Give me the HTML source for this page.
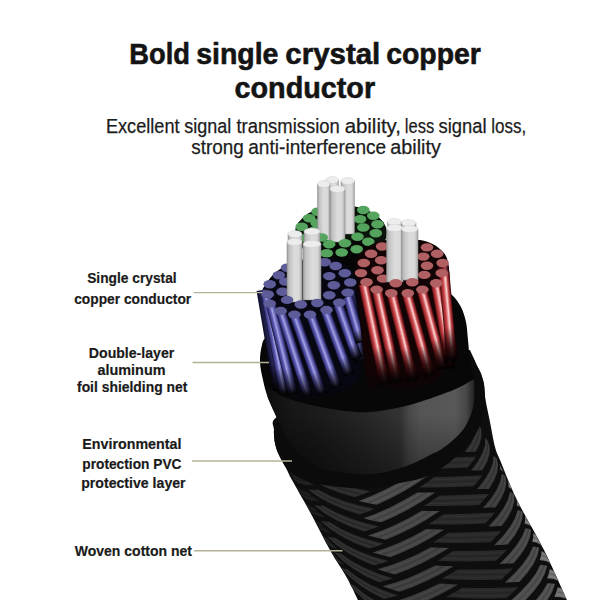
<!DOCTYPE html>
<html><head><meta charset="utf-8"><style>
html,body{margin:0;padding:0;background:#fff;overflow:hidden;}
svg{display:block;}
</style></head><body>
<svg width="600" height="600" viewBox="0 0 600 600">
<defs><clipPath id="braidclip"><path d="M300.0,380.0 C296.2,386.2 281.3,408.7 277.0,417.0 C272.7,425.3 274.3,425.7 274.0,430.0 C273.7,434.3 274.2,438.8 275.0,443.0 C275.8,447.2 277.2,450.8 279.0,455.0 C280.8,459.2 283.8,463.8 286.0,468.0 C288.2,472.2 288.0,472.7 292.0,480.0 C296.0,487.3 303.7,500.3 310.0,512.0 C316.3,523.7 324.0,539.3 330.0,550.0 C336.0,560.7 341.3,567.7 346.0,576.0 C350.7,584.3 356.0,596.0 358.0,600.0 L567,600 567.0,600.0 C563.2,591.7 552.3,566.7 544.0,550.0 C535.7,533.3 524.3,515.0 517.0,500.0 C509.7,485.0 503.7,468.8 500.0,460.0 C496.3,451.2 496.7,453.3 495.0,447.0 C493.3,440.7 491.7,430.3 490.0,422.0 C488.3,413.7 486.2,404.0 485.0,397.0 C483.8,390.0 485.5,387.8 483.0,380.0 C480.5,372.2 472.2,355.0 470.0,350.0 Z"/></clipPath>
<linearGradient id="wcore" x1="0" y1="0" x2="1" y2="0">
<stop offset="0" stop-color="#9c9c9c"/><stop offset="0.15" stop-color="#c2c2c2"/><stop offset="0.5" stop-color="#dcdcdc"/><stop offset="0.8" stop-color="#d8d8d8"/><stop offset="1" stop-color="#a8a8a8"/></linearGradient>
<linearGradient id="rodB" x1="0" y1="0" x2="1" y2="0">
<stop offset="0" stop-color="#0c0c24"/><stop offset="0.12" stop-color="#38367e"/><stop offset="0.32" stop-color="#605eb6"/><stop offset="0.48" stop-color="#a4a3e2"/><stop offset="0.58" stop-color="#8482d0"/><stop offset="0.8" stop-color="#44428e"/><stop offset="1" stop-color="#0c0c24"/></linearGradient>
<linearGradient id="rodBd" x1="0" y1="0" x2="1" y2="0">
<stop offset="0" stop-color="#0a0a20"/><stop offset="0.5" stop-color="#34326e"/><stop offset="0.65" stop-color="#5a58a0"/><stop offset="1" stop-color="#0a0a20"/></linearGradient>
<linearGradient id="rodRd" x1="0" y1="0" x2="1" y2="0">
<stop offset="0" stop-color="#200406"/><stop offset="0.5" stop-color="#7a1e28"/><stop offset="0.65" stop-color="#b0505a"/><stop offset="1" stop-color="#200406"/></linearGradient>
<linearGradient id="rodR" x1="0" y1="0" x2="1" y2="0">
<stop offset="0" stop-color="#300808"/><stop offset="0.14" stop-color="#9a2428"/><stop offset="0.34" stop-color="#cc4c52"/><stop offset="0.48" stop-color="#eca0a0"/><stop offset="0.58" stop-color="#f8d4d0"/><stop offset="0.72" stop-color="#d0585c"/><stop offset="0.88" stop-color="#801c22"/><stop offset="1" stop-color="#300808"/></linearGradient>
<linearGradient id="alongFade" x1="0" y1="0" x2="0" y2="1">
<stop offset="0" stop-color="#000" stop-opacity="0"/><stop offset="0.72" stop-color="#000" stop-opacity="0"/><stop offset="0.93" stop-color="#000" stop-opacity="0.7"/><stop offset="1" stop-color="#000" stop-opacity="1"/></linearGradient>
<linearGradient id="alongFadeR" x1="0" y1="0" x2="0" y2="1">
<stop offset="0" stop-color="#000" stop-opacity="0"/><stop offset="0.62" stop-color="#000" stop-opacity="0"/><stop offset="0.86" stop-color="#1a0204" stop-opacity="0.85"/><stop offset="1" stop-color="#000" stop-opacity="1"/></linearGradient>
<linearGradient id="fadeM" x1="0" y1="0" x2="0" y2="1" gradientUnits="objectBoundingBox">
<stop offset="0" stop-color="#fff"/><stop offset="0.5" stop-color="#fff"/><stop offset="0.85" stop-color="#000"/></linearGradient>
<linearGradient id="fadeB" x1="0" y1="390" x2="0" y2="406" gradientUnits="userSpaceOnUse"><stop offset="0" stop-color="#fff"/><stop offset="1" stop-color="#000"/></linearGradient><mask id="bmask" maskUnits="userSpaceOnUse" x="0" y="0" width="600" height="600"><rect x="250" y="250" width="120" height="160" fill="url(#fadeB)"/></mask><linearGradient id="fadeR" x1="0" y1="370" x2="0" y2="400" gradientUnits="userSpaceOnUse"><stop offset="0" stop-color="#fff"/><stop offset="1" stop-color="#000"/></linearGradient><mask id="rmask" maskUnits="userSpaceOnUse" x="0" y="0" width="600" height="600"><rect x="350" y="240" width="110" height="150" fill="url(#fadeR)"/></mask><linearGradient id="faceg" x1="264" y1="0" x2="476" y2="0" gradientUnits="userSpaceOnUse"><stop offset="0.000" stop-color="rgb(12,12,12)"/><stop offset="0.123" stop-color="rgb(27,27,27)"/><stop offset="0.311" stop-color="rgb(36,36,36)"/><stop offset="0.500" stop-color="rgb(44,44,44)"/><stop offset="0.642" stop-color="rgb(50,50,50)"/><stop offset="0.684" stop-color="rgb(72,72,72)"/><stop offset="0.736" stop-color="rgb(84,84,84)"/><stop offset="0.901" stop-color="rgb(88,88,88)"/><stop offset="0.953" stop-color="rgb(72,72,72)"/><stop offset="1.000" stop-color="rgb(26,26,26)"/></linearGradient>
<radialGradient id="faceshade" cx="300" cy="470" r="110" gradientUnits="userSpaceOnUse">
<stop offset="0" stop-color="#000" stop-opacity="0.4"/><stop offset="1" stop-color="#000" stop-opacity="0"/></radialGradient>
<linearGradient id="facevert" x1="0" y1="415" x2="0" y2="476" gradientUnits="userSpaceOnUse">
<stop offset="0" stop-color="#000" stop-opacity="0"/><stop offset="1" stop-color="#000" stop-opacity="0.4"/></linearGradient>
<linearGradient id="facetop" x1="0" y1="380" x2="0" y2="440" gradientUnits="userSpaceOnUse">
<stop offset="0" stop-color="#000" stop-opacity="0.9"/><stop offset="0.45" stop-color="#000" stop-opacity="0.35"/><stop offset="0.7" stop-color="#000" stop-opacity="0"/></linearGradient></defs>
<rect width="600" height="600" fill="#fff"/>
<text x="129.3" y="64" font-size="29" font-weight="bold" fill="#141414" stroke="#141414" stroke-width="0.6" textLength="60.69" lengthAdjust="spacingAndGlyphs" font-family="Liberation Sans, sans-serif">Bold</text>
<text x="196.16" y="64" font-size="29" font-weight="bold" fill="#141414" stroke="#141414" stroke-width="0.6" textLength="82.3" lengthAdjust="spacingAndGlyphs" font-family="Liberation Sans, sans-serif">single</text>
<text x="285.39" y="64" font-size="29" font-weight="bold" fill="#141414" stroke="#141414" stroke-width="0.6" textLength="94.9" lengthAdjust="spacingAndGlyphs" font-family="Liberation Sans, sans-serif">crystal</text>
<text x="386.13" y="64" font-size="29" font-weight="bold" fill="#141414" stroke="#141414" stroke-width="0.6" textLength="94.81" lengthAdjust="spacingAndGlyphs" font-family="Liberation Sans, sans-serif">copper</text>
<text x="234.57" y="98.3" font-size="29" font-weight="bold" fill="#141414" stroke="#141414" stroke-width="0.6" textLength="140.51" lengthAdjust="spacingAndGlyphs" font-family="Liberation Sans, sans-serif">conductor</text>
<text x="105.93" y="132.7" font-size="19.3" font-weight="normal" fill="#1c1c1c" stroke="#1c1c1c" stroke-width="0.25" textLength="73.62" lengthAdjust="spacingAndGlyphs" font-family="Liberation Sans, sans-serif">Excellent</text>
<text x="184.32" y="132.7" font-size="19.3" font-weight="normal" fill="#1c1c1c" stroke="#1c1c1c" stroke-width="0.25" textLength="47.01" lengthAdjust="spacingAndGlyphs" font-family="Liberation Sans, sans-serif">signal</text>
<text x="236.38" y="132.7" font-size="19.3" font-weight="normal" fill="#1c1c1c" stroke="#1c1c1c" stroke-width="0.25" textLength="103.42" lengthAdjust="spacingAndGlyphs" font-family="Liberation Sans, sans-serif">transmission</text>
<text x="344.65" y="132.7" font-size="19.3" font-weight="normal" fill="#1c1c1c" stroke="#1c1c1c" stroke-width="0.25" textLength="56.32" lengthAdjust="spacingAndGlyphs" font-family="Liberation Sans, sans-serif">ability,</text>
<text x="404.77" y="132.7" font-size="19.3" font-weight="normal" fill="#1c1c1c" stroke="#1c1c1c" stroke-width="0.25" textLength="29.41" lengthAdjust="spacingAndGlyphs" font-family="Liberation Sans, sans-serif">less</text>
<text x="438.52" y="132.7" font-size="19.3" font-weight="normal" fill="#1c1c1c" stroke="#1c1c1c" stroke-width="0.25" textLength="48.01" lengthAdjust="spacingAndGlyphs" font-family="Liberation Sans, sans-serif">signal</text>
<text x="491.27" y="132.7" font-size="19.3" font-weight="normal" fill="#1c1c1c" stroke="#1c1c1c" stroke-width="0.25" textLength="34.98" lengthAdjust="spacingAndGlyphs" font-family="Liberation Sans, sans-serif">loss,</text>
<text x="191.29" y="154.4" font-size="19.3" font-weight="normal" fill="#1c1c1c" stroke="#1c1c1c" stroke-width="0.25" textLength="52.58" lengthAdjust="spacingAndGlyphs" font-family="Liberation Sans, sans-serif">strong</text>
<text x="248.25" y="154.4" font-size="19.3" font-weight="normal" fill="#1c1c1c" stroke="#1c1c1c" stroke-width="0.25" textLength="137.95" lengthAdjust="spacingAndGlyphs" font-family="Liberation Sans, sans-serif">anti-interference</text>
<text x="390.3" y="154.4" font-size="19.3" font-weight="normal" fill="#1c1c1c" stroke="#1c1c1c" stroke-width="0.25" textLength="50.59" lengthAdjust="spacingAndGlyphs" font-family="Liberation Sans, sans-serif">ability</text>
<text x="87.14" y="282.7" font-size="15.5" font-weight="bold" fill="#1a1a1a" stroke="#1a1a1a" stroke-width="0.2" textLength="89.51" lengthAdjust="spacingAndGlyphs" font-family="Liberation Sans, sans-serif">Single crystal</text>
<text x="74.16" y="303.8" font-size="15.5" font-weight="bold" fill="#1a1a1a" stroke="#1a1a1a" stroke-width="0.2" textLength="117.06" lengthAdjust="spacingAndGlyphs" font-family="Liberation Sans, sans-serif">copper conductor</text>
<text x="88.84" y="357.5" font-size="15.5" font-weight="bold" fill="#1a1a1a" stroke="#1a1a1a" stroke-width="0.2" textLength="85.42" lengthAdjust="spacingAndGlyphs" font-family="Liberation Sans, sans-serif">Double-layer</text>
<text x="97.48" y="374.5" font-size="15.5" font-weight="bold" fill="#1a1a1a" stroke="#1a1a1a" stroke-width="0.2" textLength="68.08" lengthAdjust="spacingAndGlyphs" font-family="Liberation Sans, sans-serif">aluminum</text>
<text x="77.0" y="391.5" font-size="15.5" font-weight="bold" fill="#1a1a1a" stroke="#1a1a1a" stroke-width="0.2" textLength="110.34" lengthAdjust="spacingAndGlyphs" font-family="Liberation Sans, sans-serif">foil shielding net</text>
<text x="82.26" y="448.8" font-size="15.5" font-weight="bold" fill="#1a1a1a" stroke="#1a1a1a" stroke-width="0.2" textLength="99.17" lengthAdjust="spacingAndGlyphs" font-family="Liberation Sans, sans-serif">Environmental</text>
<text x="82.29" y="468.5" font-size="15.5" font-weight="bold" fill="#1a1a1a" stroke="#1a1a1a" stroke-width="0.2" textLength="99.2" lengthAdjust="spacingAndGlyphs" font-family="Liberation Sans, sans-serif">protection PVC</text>
<text x="81.24" y="487.5" font-size="15.5" font-weight="bold" fill="#1a1a1a" stroke="#1a1a1a" stroke-width="0.2" textLength="104.34" lengthAdjust="spacingAndGlyphs" font-family="Liberation Sans, sans-serif">protective layer</text>
<text x="74.72" y="555.7" font-size="15.5" font-weight="bold" fill="#1a1a1a" stroke="#1a1a1a" stroke-width="0.2" textLength="117.31" lengthAdjust="spacingAndGlyphs" font-family="Liberation Sans, sans-serif">Woven cotton net</text>
<path d="M300.0,380.0 C296.2,386.2 281.3,408.7 277.0,417.0 C272.7,425.3 274.3,425.7 274.0,430.0 C273.7,434.3 274.2,438.8 275.0,443.0 C275.8,447.2 277.2,450.8 279.0,455.0 C280.8,459.2 283.8,463.8 286.0,468.0 C288.2,472.2 288.0,472.7 292.0,480.0 C296.0,487.3 303.7,500.3 310.0,512.0 C316.3,523.7 324.0,539.3 330.0,550.0 C336.0,560.7 341.3,567.7 346.0,576.0 C350.7,584.3 356.0,596.0 358.0,600.0 L567,600 567.0,600.0 C563.2,591.7 552.3,566.7 544.0,550.0 C535.7,533.3 524.3,515.0 517.0,500.0 C509.7,485.0 503.7,468.8 500.0,460.0 C496.3,451.2 496.7,453.3 495.0,447.0 C493.3,440.7 491.7,430.3 490.0,422.0 C488.3,413.7 486.2,404.0 485.0,397.0 C483.8,390.0 485.5,387.8 483.0,380.0 C480.5,372.2 472.2,355.0 470.0,350.0 Z" fill="#0e0e0e"/>
<g clip-path="url(#braidclip)">
<path d="M213.9,324.2 L217.5,331.2 L221.1,338.2 L226.8,348.0 L234.6,358.1 L234.6,358.1 L233.1,357.4 L231.8,356.5 L230.6,355.6 L229.7,354.6 L229.7,354.6 L225.1,346.0 L221.5,339.0 L217.9,332.0 L214.4,325.1 L214.4,325.1 L214.3,324.8 L214.1,324.6 L214.0,324.4 L213.9,324.2Z" fill="rgb(115,115,115)"/>
<path d="M225.6,346.7 L232.6,356.7" stroke="rgb(163,163,163)" stroke-width="0.7" fill="none" stroke-opacity="0.6"/>
<path d="M224.9,345.5 L231.3,355.9" stroke="rgb(80,80,80)" stroke-width="0.7" fill="none" stroke-opacity="0.6"/>
<path d="M392.0,255.1 L393.1,257.2 L394.2,259.3 L395.2,261.3 L396.3,263.4 L396.3,263.4 L396.7,264.1 L397.0,264.8 L397.4,265.6 L399.0,270.0 L399.0,270.0 L398.1,269.4 L397.0,268.9 L395.8,268.5 L394.4,268.1 L394.4,268.1 L394.4,261.2 L392.8,256.6 L392.4,255.9 L392.0,255.1Z" fill="rgb(34,34,34)"/>
<path d="M395.1,261.6 L395.8,268.0" stroke="rgb(53,53,53)" stroke-width="0.7" fill="none" stroke-opacity="0.6"/>
<path d="M395.7,262.3 L397.0,268.5" stroke="rgb(23,23,23)" stroke-width="0.7" fill="none" stroke-opacity="0.6"/>
<path d="M373.5,272.1 L382.8,272.0 L390.4,272.2 L396.4,273.0 L400.6,274.4 L400.6,274.4 L400.7,276.4 L400.6,278.5 L400.3,280.7 L399.8,283.0 L399.8,283.0 L393.2,282.4 L384.9,282.3 L375.1,282.6 L363.8,283.1 L363.8,283.1 L366.5,280.3 L369.0,277.6 L371.3,274.8 L373.5,272.1Z" fill="rgb(76,76,76)"/>
<path d="M372.0,274.8 L381.4,274.6 L389.3,274.7 L395.7,275.2 L400.5,276.3" stroke="rgb(110,110,110)" stroke-width="0.7" fill="none" stroke-opacity="0.6"/>
<path d="M369.7,277.5 L379.6,277.2 L388.0,277.2 L395.0,277.5 L400.3,278.5" stroke="rgb(53,53,53)" stroke-width="0.7" fill="none" stroke-opacity="0.6"/>
<path d="M367.2,280.3 L377.6,279.9 L386.6,279.7 L394.1,279.9 L400.0,280.7" stroke="rgb(110,110,110)" stroke-width="0.7" fill="none" stroke-opacity="0.6"/>
<path d="M368.2,306.9 L371.9,306.7 L375.5,306.6 L379.0,306.4 L382.4,306.3 L382.4,306.3 L373.1,315.7 L362.2,325.0 L350.1,334.0 L337.1,342.6 L337.1,342.6 L332.5,342.4 L327.9,342.2 L323.2,341.9 L318.6,341.6 L318.6,341.6 L332.2,333.8 L345.2,325.3 L357.4,316.2 L368.2,306.9Z" fill="rgb(80,80,80)"/>
<path d="M371.3,307.3 L361.1,316.4 L349.6,325.2 L337.2,333.6 L324.1,341.4" stroke="rgb(116,116,116)" stroke-width="0.7" fill="none" stroke-opacity="0.6"/>
<path d="M374.9,307.2 L365.1,316.3 L353.9,325.2 L341.7,333.7 L328.8,341.7" stroke="rgb(56,56,56)" stroke-width="0.7" fill="none" stroke-opacity="0.6"/>
<path d="M378.4,307.0 L369.0,316.1 L358.1,325.1 L346.1,333.8 L333.4,341.9" stroke="rgb(116,116,116)" stroke-width="0.7" fill="none" stroke-opacity="0.6"/>
<path d="M272.4,338.8 L287.7,342.2 L303.4,344.7 L319.3,346.4 L335.0,347.4 L335.0,347.4 L331.0,349.7 L327.0,352.0 L323.0,354.1 L318.9,356.2 L318.9,356.2 L303.1,354.2 L287.5,351.4 L272.3,347.7 L258.0,342.9 L258.0,342.9 L261.4,342.0 L265.0,341.1 L268.6,340.0 L272.4,338.8Z" fill="rgb(40,40,40)"/>
<path d="M269.6,340.2 L284.3,343.8 L299.4,346.5 L314.7,348.4 L330.0,349.6" stroke="rgb(62,62,62)" stroke-width="0.7" fill="none" stroke-opacity="0.6"/>
<path d="M265.9,341.4 L280.4,345.3 L295.4,348.3 L310.6,350.4 L326.0,351.9" stroke="rgb(28,28,28)" stroke-width="0.7" fill="none" stroke-opacity="0.6"/>
<path d="M262.3,342.4 L276.6,346.6 L291.4,349.9 L306.6,352.4 L322.0,354.0" stroke="rgb(62,62,62)" stroke-width="0.7" fill="none" stroke-opacity="0.6"/>
<path d="M261.6,362.9 L265.5,364.6 L269.6,366.2 L273.7,367.7 L278.0,369.2 L278.0,369.2 L266.4,371.8 L256.3,373.1 L247.9,372.9 L241.4,371.3 L241.4,371.3 L238.9,368.5 L236.6,365.5 L234.4,362.5 L232.3,359.4 L232.3,359.4 L236.6,362.3 L243.1,363.9 L251.5,364.1 L261.6,362.9Z" fill="rgb(37,37,37)"/>
<path d="M264.8,364.7 L254.7,366.2 L246.2,366.4 L239.4,365.2 L234.6,362.7" stroke="rgb(57,57,57)" stroke-width="0.7" fill="none" stroke-opacity="0.6"/>
<path d="M268.9,366.4 L258.4,368.2 L249.4,368.7 L242.2,367.8 L236.8,365.7" stroke="rgb(25,25,25)" stroke-width="0.7" fill="none" stroke-opacity="0.6"/>
<path d="M273.0,367.9 L262.2,370.1 L252.8,370.9 L245.1,370.4 L239.2,368.6" stroke="rgb(57,57,57)" stroke-width="0.7" fill="none" stroke-opacity="0.6"/>
<path d="M222.3,340.4 L225.9,347.4 L229.4,354.4 L234.1,363.1 L241.4,373.4 L241.4,373.4 L240.1,372.6 L238.9,371.7 L238.0,370.6 L237.2,369.5 L237.2,369.5 L233.5,362.2 L229.9,355.3 L226.3,348.3 L222.7,341.3 L222.7,341.3 L222.6,341.1 L222.5,340.9 L222.4,340.7 L222.3,340.4Z" fill="rgb(115,115,115)"/>
<path d="M233.1,361.6 L239.6,372.0" stroke="rgb(163,163,163)" stroke-width="0.7" fill="none" stroke-opacity="0.6"/>
<path d="M400.4,271.4 L401.5,273.4 L402.5,275.5 L403.6,277.5 L404.6,279.6 L404.6,279.6 L405.0,280.3 L405.4,281.1 L405.7,281.8 L407.5,287.9 L407.5,287.9 L406.4,287.4 L405.2,286.9 L403.8,286.6 L402.2,286.3 L402.2,286.3 L402.9,279.1 L401.2,272.9 L400.8,272.1 L400.4,271.4Z" fill="rgb(34,34,34)"/>
<path d="M403.8,279.4 L403.9,286.1" stroke="rgb(53,53,53)" stroke-width="0.7" fill="none" stroke-opacity="0.6"/>
<path d="M404.5,280.0 L405.2,286.5" stroke="rgb(23,23,23)" stroke-width="0.7" fill="none" stroke-opacity="0.6"/>
<path d="M405.2,280.8 L406.4,286.9" stroke="rgb(53,53,53)" stroke-width="0.7" fill="none" stroke-opacity="0.6"/>
<path d="M379.7,290.7 L389.4,290.5 L397.6,290.6 L404.2,291.1 L408.9,292.4 L408.9,292.4 L408.8,294.5 L408.5,296.6 L408.0,298.9 L407.3,301.2 L407.3,301.2 L400.2,300.8 L391.4,300.9 L381.1,301.2 L369.4,301.7 L369.4,301.7 L372.2,299.0 L374.8,296.2 L377.3,293.5 L379.7,290.7Z" fill="rgb(73,73,73)"/>
<path d="M378.0,293.4 L387.9,293.1 L396.4,293.1 L403.3,293.5 L408.6,294.4" stroke="rgb(106,106,106)" stroke-width="0.7" fill="none" stroke-opacity="0.6"/>
<path d="M375.6,296.2 L385.9,295.8 L394.9,295.6 L402.3,295.8 L408.2,296.6" stroke="rgb(51,51,51)" stroke-width="0.7" fill="none" stroke-opacity="0.6"/>
<path d="M373.0,298.9 L383.8,298.5 L393.2,298.2 L401.2,298.3 L407.7,298.8" stroke="rgb(106,106,106)" stroke-width="0.7" fill="none" stroke-opacity="0.6"/>
<path d="M373.6,325.6 L377.4,325.4 L381.1,325.2 L384.7,325.1 L388.2,324.9 L388.2,324.9 L378.4,334.3 L367.2,343.6 L354.8,352.5 L341.6,360.9 L341.6,360.9 L337.0,360.6 L332.3,360.3 L327.7,360.0 L323.0,359.6 L323.0,359.6 L336.7,352.1 L349.9,343.7 L362.3,334.8 L373.6,325.6Z" fill="rgb(80,80,80)"/>
<path d="M376.7,326.0 L366.1,335.0 L354.3,343.7 L341.7,352.0 L328.5,359.5" stroke="rgb(116,116,116)" stroke-width="0.7" fill="none" stroke-opacity="0.6"/>
<path d="M380.5,325.8 L370.2,334.9 L358.7,343.7 L346.2,352.1 L333.2,359.9" stroke="rgb(56,56,56)" stroke-width="0.7" fill="none" stroke-opacity="0.6"/>
<path d="M384.1,325.7 L374.2,334.8 L363.0,343.7 L350.8,352.2 L337.8,360.1" stroke="rgb(116,116,116)" stroke-width="0.7" fill="none" stroke-opacity="0.6"/>
<path d="M277.1,355.9 L292.2,359.7 L307.8,362.5 L323.7,364.4 L339.5,365.6 L339.5,365.6 L335.5,367.9 L331.4,370.0 L327.3,372.1 L323.3,374.2 L323.3,374.2 L307.5,371.9 L292.0,368.8 L277.1,364.7 L263.0,359.6 L263.0,359.6 L266.4,358.9 L269.8,358.0 L273.4,357.0 L277.1,355.9Z" fill="rgb(41,41,41)"/>
<path d="M274.3,357.3 L288.8,361.2 L303.8,364.2 L319.1,366.4 L334.5,367.8" stroke="rgb(63,63,63)" stroke-width="0.7" fill="none" stroke-opacity="0.6"/>
<path d="M270.7,358.3 L285.0,362.5 L299.8,365.8 L315.0,368.3 L330.4,370.0" stroke="rgb(28,28,28)" stroke-width="0.7" fill="none" stroke-opacity="0.6"/>
<path d="M267.3,359.2 L281.2,363.8 L295.9,367.4 L311.0,370.1 L326.3,372.0" stroke="rgb(63,63,63)" stroke-width="0.7" fill="none" stroke-opacity="0.6"/>
<path d="M266.8,379.4 L270.7,381.2 L274.7,382.9 L278.7,384.6 L282.9,386.1 L282.9,386.1 L271.7,388.4 L262.0,389.2 L254.1,388.6 L248.2,386.7 L248.2,386.7 L245.8,383.7 L243.7,380.7 L241.6,377.6 L239.7,374.4 L239.7,374.4 L243.4,377.7 L249.3,379.6 L257.2,380.2 L266.8,379.4Z" fill="rgb(36,36,36)"/>
<path d="M270.0,381.3 L260.3,382.4 L252.3,382.2 L246.1,380.6 L241.8,377.8" stroke="rgb(56,56,56)" stroke-width="0.7" fill="none" stroke-opacity="0.6"/>
<path d="M274.0,383.1 L263.9,384.5 L255.4,384.6 L248.7,383.4 L243.9,380.9" stroke="rgb(25,25,25)" stroke-width="0.7" fill="none" stroke-opacity="0.6"/>
<path d="M278.0,384.7 L267.6,386.5 L258.6,387.0 L251.4,386.1 L246.1,383.9" stroke="rgb(56,56,56)" stroke-width="0.7" fill="none" stroke-opacity="0.6"/>
<path d="M230.6,356.7 L234.2,363.7 L237.8,370.6 L241.6,378.0 L248.4,388.7 L248.4,388.7 L247.2,387.8 L246.2,386.7 L245.5,385.6 L245.4,385.5 L245.4,385.5 L241.8,378.5 L238.2,371.5 L234.6,364.5 L231.0,357.5 L231.0,357.5 L230.9,357.3 L230.8,357.1 L230.7,356.9 L230.6,356.7Z" fill="rgb(115,115,115)"/>
<path d="M408.7,287.6 L409.8,289.7 L410.9,291.7 L411.9,293.8 L413.0,295.8 L413.0,295.8 L413.3,296.6 L413.7,297.3 L414.7,299.4 L415.8,305.8 L415.8,305.8 L414.5,305.4 L413.1,305.0 L411.6,304.7 L409.9,304.5 L409.9,304.5 L411.2,297.0 L410.1,290.5 L409.1,288.3 L408.7,287.6Z" fill="rgb(34,34,34)"/>
<path d="M410.6,291.3 L412.3,297.3 L411.7,304.2" stroke="rgb(53,53,53)" stroke-width="0.7" fill="none" stroke-opacity="0.6"/>
<path d="M413.2,297.8 L413.2,304.6" stroke="rgb(23,23,23)" stroke-width="0.7" fill="none" stroke-opacity="0.6"/>
<path d="M414.0,298.5 L414.6,304.9" stroke="rgb(53,53,53)" stroke-width="0.7" fill="none" stroke-opacity="0.6"/>
<path d="M385.7,309.4 L396.0,309.0 L404.7,309.0 L411.7,309.4 L417.1,310.4 L417.1,310.4 L416.8,312.6 L416.3,314.8 L415.6,317.1 L414.7,319.5 L414.7,319.5 L407.0,319.3 L397.8,319.5 L387.0,319.9 L374.9,320.4 L374.9,320.4 L377.8,317.6 L380.6,314.9 L383.2,312.1 L385.7,309.4Z" fill="rgb(69,69,69)"/>
<path d="M383.9,312.1 L394.3,311.7 L403.2,311.5 L410.6,311.8 L416.5,312.5" stroke="rgb(101,101,101)" stroke-width="0.7" fill="none" stroke-opacity="0.6"/>
<path d="M381.3,314.8 L392.1,314.4 L401.6,314.1 L409.5,314.2 L415.9,314.8" stroke="rgb(48,48,48)" stroke-width="0.7" fill="none" stroke-opacity="0.6"/>
<path d="M378.6,317.6 L389.8,317.1 L399.8,316.8 L408.2,316.7 L415.2,317.1" stroke="rgb(101,101,101)" stroke-width="0.7" fill="none" stroke-opacity="0.6"/>
<path d="M378.8,344.2 L382.7,344.1 L386.5,343.9 L390.3,343.7 L393.9,343.6 L393.9,343.6 L383.7,353.0 L372.1,362.2 L359.4,370.9 L346.0,379.1 L346.0,379.1 L341.4,378.8 L336.7,378.5 L332.0,378.0 L327.4,377.6 L327.4,377.6 L341.1,370.3 L354.5,362.2 L367.2,353.4 L378.8,344.2Z" fill="rgb(79,79,79)"/>
<path d="M382.1,344.6 L371.1,353.6 L359.0,362.2 L346.2,370.3 L332.9,377.6" stroke="rgb(114,114,114)" stroke-width="0.7" fill="none" stroke-opacity="0.6"/>
<path d="M385.9,344.5 L375.2,353.5 L363.4,362.2 L350.8,370.5 L337.6,378.0" stroke="rgb(55,55,55)" stroke-width="0.7" fill="none" stroke-opacity="0.6"/>
<path d="M389.6,344.3 L379.3,353.4 L367.8,362.2 L355.3,370.6 L342.2,378.3" stroke="rgb(114,114,114)" stroke-width="0.7" fill="none" stroke-opacity="0.6"/>
<path d="M281.8,373.0 L296.8,377.1 L312.2,380.1 L328.0,382.4 L343.9,383.8 L343.9,383.8 L339.8,386.0 L335.8,388.1 L331.7,390.1 L327.7,392.0 L327.7,392.0 L312.0,389.5 L296.6,386.1 L282.0,381.7 L268.2,376.2 L268.2,376.2 L271.4,375.6 L274.8,374.9 L278.3,374.0 L281.8,373.0Z" fill="rgb(41,41,41)"/>
<path d="M279.2,374.3 L293.4,378.5 L308.3,381.8 L323.5,384.2 L338.8,385.9" stroke="rgb(63,63,63)" stroke-width="0.7" fill="none" stroke-opacity="0.6"/>
<path d="M275.7,375.2 L289.7,379.7 L304.3,383.3 L319.4,386.0 L334.8,388.0" stroke="rgb(28,28,28)" stroke-width="0.7" fill="none" stroke-opacity="0.6"/>
<path d="M272.3,376.0 L286.0,380.8 L300.5,384.8 L315.4,387.8 L330.7,390.0" stroke="rgb(63,63,63)" stroke-width="0.7" fill="none" stroke-opacity="0.6"/>
<path d="M272.2,395.8 L276.0,397.7 L279.8,399.5 L283.8,401.3 L287.8,402.9 L287.8,402.9 L277.0,404.8 L267.8,405.2 L260.5,404.3 L255.1,401.9 L255.1,401.9 L253.0,398.9 L250.9,395.8 L249.1,392.5 L247.6,389.7 L247.6,389.7 L250.4,392.9 L255.7,395.3 L263.0,396.2 L272.2,395.8Z" fill="rgb(35,35,35)"/>
<path d="M275.3,397.8 L266.1,398.5 L258.5,397.9 L252.9,396.0 L249.2,392.8" stroke="rgb(55,55,55)" stroke-width="0.7" fill="none" stroke-opacity="0.6"/>
<path d="M279.1,399.7 L269.5,400.7 L261.5,400.4 L255.3,398.8 L251.1,396.0" stroke="rgb(24,24,24)" stroke-width="0.7" fill="none" stroke-opacity="0.6"/>
<path d="M283.1,401.4 L273.1,402.8 L264.6,402.9 L257.9,401.6 L253.2,399.1" stroke="rgb(55,55,55)" stroke-width="0.7" fill="none" stroke-opacity="0.6"/>
<path d="M239.0,372.9 L242.5,379.9 L246.1,386.9 L249.7,393.9 L255.5,403.8 L255.5,403.8 L254.5,402.8 L253.7,401.7 L253.6,401.5 L253.7,401.7 L253.7,401.7 L250.2,394.7 L246.6,387.7 L243.0,380.8 L239.4,373.8 L239.4,373.8 L239.3,373.6 L239.2,373.3 L239.1,373.1 L239.0,372.9Z" fill="rgb(115,115,115)"/>
<path d="M417.1,303.8 L418.1,305.9 L419.2,308.0 L420.3,310.0 L421.3,312.1 L421.3,312.1 L421.7,312.8 L422.1,313.5 L423.5,317.1 L423.9,323.8 L423.9,323.8 L422.5,323.5 L420.9,323.2 L419.2,322.9 L417.4,322.7 L417.4,322.7 L419.3,315.0 L418.9,308.2 L417.5,304.6 L417.1,303.8Z" fill="rgb(34,34,34)"/>
<path d="M419.6,308.9 L420.6,315.2 L419.4,322.4" stroke="rgb(53,53,53)" stroke-width="0.7" fill="none" stroke-opacity="0.6"/>
<path d="M420.1,309.7 L421.7,315.7 L421.1,322.7" stroke="rgb(23,23,23)" stroke-width="0.7" fill="none" stroke-opacity="0.6"/>
<path d="M422.6,316.3 L422.6,323.0" stroke="rgb(53,53,53)" stroke-width="0.7" fill="none" stroke-opacity="0.6"/>
<path d="M391.6,328.0 L402.3,327.6 L411.5,327.4 L419.1,327.7 L425.1,328.5 L425.1,328.5 L424.6,330.7 L423.9,333.0 L423.0,335.4 L421.9,337.9 L421.9,337.9 L413.7,337.8 L403.9,338.1 L392.7,338.5 L380.2,339.1 L380.2,339.1 L383.3,336.3 L386.2,333.5 L389.0,330.8 L391.6,328.0Z" fill="rgb(65,65,65)"/>
<path d="M389.7,330.7 L400.5,330.3 L409.9,330.0 L417.8,330.1 L424.2,330.7" stroke="rgb(95,95,95)" stroke-width="0.7" fill="none" stroke-opacity="0.6"/>
<path d="M387.0,333.5 L398.2,333.0 L408.1,332.7 L416.6,332.6 L423.5,333.0" stroke="rgb(45,45,45)" stroke-width="0.7" fill="none" stroke-opacity="0.6"/>
<path d="M384.1,336.3 L395.7,335.8 L406.1,335.3 L415.1,335.2 L422.6,335.4" stroke="rgb(95,95,95)" stroke-width="0.7" fill="none" stroke-opacity="0.6"/>
<path d="M383.9,362.8 L387.9,362.7 L391.9,362.6 L395.7,362.4 L399.4,362.2 L399.4,362.2 L388.8,371.6 L376.9,380.7 L364.0,389.3 L350.4,397.3 L350.4,397.3 L345.8,396.9 L341.1,396.5 L336.4,396.0 L331.7,395.5 L331.7,395.5 L345.5,388.4 L359.1,380.5 L372.0,371.9 L383.9,362.8Z" fill="rgb(79,79,79)"/>
<path d="M387.2,363.3 L375.9,372.2 L363.6,380.6 L350.6,388.5 L337.3,395.6" stroke="rgb(114,114,114)" stroke-width="0.7" fill="none" stroke-opacity="0.6"/>
<path d="M391.2,363.1 L380.2,372.1 L368.1,380.7 L355.2,388.7 L342.0,396.0" stroke="rgb(55,55,55)" stroke-width="0.7" fill="none" stroke-opacity="0.6"/>
<path d="M395.0,363.0 L384.3,372.0 L372.5,380.7 L359.8,388.9 L346.6,396.4" stroke="rgb(114,114,114)" stroke-width="0.7" fill="none" stroke-opacity="0.6"/>
<path d="M286.7,390.0 L301.4,394.4 L316.7,397.7 L332.4,400.2 L348.3,401.9 L348.3,401.9 L344.2,404.0 L340.2,406.0 L336.1,407.9 L332.1,409.8 L332.1,409.8 L316.5,407.0 L301.3,403.3 L286.9,398.5 L273.4,392.8 L273.4,392.8 L276.6,392.2 L279.8,391.6 L283.2,390.9 L286.7,390.0Z" fill="rgb(41,41,41)"/>
<path d="M284.1,391.2 L298.1,395.7 L312.8,399.3 L327.9,402.0 L343.2,403.9" stroke="rgb(63,63,63)" stroke-width="0.7" fill="none" stroke-opacity="0.6"/>
<path d="M280.7,392.0 L294.4,396.8 L308.9,400.7 L323.9,403.7 L339.2,405.9" stroke="rgb(28,28,28)" stroke-width="0.7" fill="none" stroke-opacity="0.6"/>
<path d="M277.4,392.6 L290.8,397.8 L305.1,402.0 L319.9,405.4 L335.1,407.8" stroke="rgb(63,63,63)" stroke-width="0.7" fill="none" stroke-opacity="0.6"/>
<path d="M277.7,412.1 L281.4,414.1 L285.1,416.0 L289.0,417.9 L292.9,419.6 L292.9,419.6 L282.5,421.1 L273.8,421.1 L267.0,419.8 L262.3,417.1 L262.3,417.1 L260.3,413.9 L258.4,410.7 L257.0,408.0 L255.9,405.9 L255.9,405.9 L257.6,408.0 L262.2,410.8 L269.0,412.1 L277.7,412.1Z" fill="rgb(34,34,34)"/>
<path d="M280.7,414.2 L272.0,414.5 L264.9,413.5 L259.8,411.2" stroke="rgb(53,53,53)" stroke-width="0.7" fill="none" stroke-opacity="0.6"/>
<path d="M284.5,416.1 L275.3,416.8 L267.8,416.1 L262.1,414.2 L258.6,411.0" stroke="rgb(23,23,23)" stroke-width="0.7" fill="none" stroke-opacity="0.6"/>
<path d="M288.3,418.0 L278.7,419.0 L270.7,418.7 L264.6,417.1 L260.5,414.2" stroke="rgb(53,53,53)" stroke-width="0.7" fill="none" stroke-opacity="0.6"/>
<path d="M247.3,389.1 L250.9,396.1 L254.5,403.1 L258.1,410.1 L262.8,418.9 L262.8,418.9 L262.0,417.8 L261.9,417.5 L262.0,417.7 L262.1,417.9 L262.1,417.9 L258.5,410.9 L254.9,404.0 L251.3,397.0 L247.7,390.0 L247.7,390.0 L247.6,389.8 L247.5,389.6 L247.4,389.4 L247.3,389.1Z" fill="rgb(115,115,115)"/>
<path d="M425.4,320.1 L426.5,322.1 L427.5,324.2 L428.6,326.3 L429.7,328.3 L429.7,328.3 L430.0,329.0 L430.4,329.8 L432.1,334.9 L431.9,341.9 L431.9,341.9 L430.3,341.6 L428.6,341.4 L426.7,341.2 L424.7,341.1 L424.7,341.1 L427.2,333.1 L427.5,326.1 L425.8,320.8 L425.4,320.1Z" fill="rgb(35,35,35)"/>
<path d="M428.3,326.7 L428.7,333.3 L426.9,340.7" stroke="rgb(55,55,55)" stroke-width="0.7" fill="none" stroke-opacity="0.6"/>
<path d="M429.0,327.4 L430.0,333.7 L428.7,340.9" stroke="rgb(24,24,24)" stroke-width="0.7" fill="none" stroke-opacity="0.6"/>
<path d="M429.5,328.1 L431.1,334.1 L430.4,341.2" stroke="rgb(55,55,55)" stroke-width="0.7" fill="none" stroke-opacity="0.6"/>
<path d="M397.3,346.6 L408.5,346.2 L418.2,345.9 L426.4,346.0 L432.8,346.6 L432.8,346.6 L432.2,349.0 L431.3,351.3 L430.2,353.8 L429.0,356.3 L429.0,356.3 L420.2,356.3 L410.0,356.7 L398.3,357.2 L385.4,357.7 L385.4,357.7 L388.6,354.9 L391.7,352.2 L394.6,349.4 L397.3,346.6Z" fill="rgb(61,61,61)"/>
<path d="M395.3,349.4 L406.5,348.9 L416.4,348.6 L424.9,348.5 L431.8,348.9" stroke="rgb(90,90,90)" stroke-width="0.7" fill="none" stroke-opacity="0.6"/>
<path d="M392.5,352.2 L404.1,351.6 L414.4,351.2 L423.4,351.1 L430.9,351.3" stroke="rgb(42,42,42)" stroke-width="0.7" fill="none" stroke-opacity="0.6"/>
<path d="M389.4,354.9 L401.5,354.4 L412.3,353.9 L421.8,353.7 L429.8,353.8" stroke="rgb(90,90,90)" stroke-width="0.7" fill="none" stroke-opacity="0.6"/>
<path d="M389.0,381.4 L393.1,381.3 L397.1,381.2 L401.0,381.1 L404.8,380.9 L404.8,380.9 L393.8,390.2 L381.6,399.2 L368.5,407.7 L354.8,415.4 L354.8,415.4 L350.2,414.9 L345.5,414.5 L340.8,413.9 L336.1,413.3 L336.1,413.3 L349.9,406.5 L363.6,398.9 L376.7,390.4 L389.0,381.4Z" fill="rgb(79,79,79)"/>
<path d="M392.3,381.9 L380.7,390.7 L368.1,399.0 L355.0,406.7 L341.7,413.5" stroke="rgb(114,114,114)" stroke-width="0.7" fill="none" stroke-opacity="0.6"/>
<path d="M396.4,381.8 L385.0,390.7 L372.7,399.1 L359.7,407.0 L346.4,414.0" stroke="rgb(55,55,55)" stroke-width="0.7" fill="none" stroke-opacity="0.6"/>
<path d="M400.3,381.6 L389.3,390.6 L377.2,399.2 L364.3,407.2 L351.0,414.5" stroke="rgb(114,114,114)" stroke-width="0.7" fill="none" stroke-opacity="0.6"/>
<path d="M291.6,406.9 L306.1,411.5 L321.2,415.2 L336.8,418.0 L352.7,419.9 L352.7,419.9 L348.6,421.9 L344.6,423.9 L340.5,425.7 L336.5,427.5 L336.5,427.5 L321.0,424.4 L306.1,420.3 L292.0,415.3 L278.8,409.2 L278.8,409.2 L281.8,408.8 L285.0,408.2 L288.2,407.6 L291.6,406.9Z" fill="rgb(42,42,42)"/>
<path d="M289.1,408.0 L302.9,412.8 L317.3,416.7 L332.3,419.7 L347.6,421.8" stroke="rgb(64,64,64)" stroke-width="0.7" fill="none" stroke-opacity="0.6"/>
<path d="M285.8,408.6 L299.3,413.8 L313.5,418.0 L328.4,421.3 L343.6,423.7" stroke="rgb(29,29,29)" stroke-width="0.7" fill="none" stroke-opacity="0.6"/>
<path d="M282.7,409.2 L295.8,414.7 L309.8,419.2 L324.4,422.8 L339.5,425.6" stroke="rgb(64,64,64)" stroke-width="0.7" fill="none" stroke-opacity="0.6"/>
<path d="M283.3,428.3 L286.9,430.4 L290.5,432.4 L294.3,434.3 L298.1,436.2 L298.1,436.2 L288.2,437.3 L279.9,436.9 L273.7,435.2 L269.6,432.1 L269.6,432.1 L267.7,428.9 L266.4,426.3 L265.3,424.2 L264.3,422.2 L264.3,422.2 L264.9,423.1 L269.0,426.2 L275.2,427.9 L283.3,428.3Z" fill="rgb(33,33,33)"/>
<path d="M286.3,430.5 L278.0,430.4 L271.5,429.0 L267.0,426.3" stroke="rgb(52,52,52)" stroke-width="0.7" fill="none" stroke-opacity="0.6"/>
<path d="M289.9,432.5 L281.2,432.8 L274.2,431.7 L269.1,429.4" stroke="rgb(23,23,23)" stroke-width="0.7" fill="none" stroke-opacity="0.6"/>
<path d="M293.6,434.4 L284.5,435.1 L277.0,434.4 L271.4,432.4 L267.9,429.2" stroke="rgb(52,52,52)" stroke-width="0.7" fill="none" stroke-opacity="0.6"/>
<path d="M255.6,405.4 L259.2,412.4 L262.8,419.3 L266.4,426.3 L270.3,433.9 L270.3,433.9 L270.1,433.5 L270.2,433.7 L270.3,434.0 L270.4,434.2 L270.4,434.2 L266.8,427.2 L263.3,420.2 L259.7,413.2 L256.1,406.2 L256.1,406.2 L256.0,406.0 L255.9,405.8 L255.7,405.6 L255.6,405.4Z" fill="rgb(115,115,115)"/>
<path d="M433.8,336.3 L434.8,338.4 L435.9,340.4 L436.9,342.5 L438.0,344.5 L438.0,344.5 L438.4,345.3 L439.0,346.5 L440.5,352.8 L439.6,360.1 L439.6,360.1 L437.9,359.9 L436.0,359.7 L434.0,359.6 L431.8,359.5 L431.8,359.5 L435.0,351.3 L435.9,344.0 L434.4,337.7 L433.8,336.3Z" fill="rgb(37,37,37)"/>
<path d="M436.9,344.5 L436.6,351.4 L434.2,359.0" stroke="rgb(57,57,57)" stroke-width="0.7" fill="none" stroke-opacity="0.6"/>
<path d="M437.7,345.1 L438.1,351.7 L436.2,359.2" stroke="rgb(25,25,25)" stroke-width="0.7" fill="none" stroke-opacity="0.6"/>
<path d="M438.4,345.8 L439.3,352.1 L438.1,359.4" stroke="rgb(57,57,57)" stroke-width="0.7" fill="none" stroke-opacity="0.6"/>
<path d="M403.0,365.3 L414.6,364.8 L424.8,364.5 L433.4,364.4 L440.4,364.9 L440.4,364.9 L439.6,367.2 L438.5,369.7 L437.3,372.2 L435.8,374.7 L435.8,374.7 L426.6,374.9 L415.9,375.3 L403.8,375.8 L390.5,376.3 L390.5,376.3 L393.8,373.6 L397.0,370.8 L400.0,368.1 L403.0,365.3Z" fill="rgb(57,57,57)"/>
<path d="M400.8,368.0 L412.5,367.5 L422.8,367.1 L431.7,367.0 L439.1,367.2" stroke="rgb(84,84,84)" stroke-width="0.7" fill="none" stroke-opacity="0.6"/>
<path d="M397.8,370.8 L409.8,370.3 L420.7,369.8 L430.1,369.6 L438.1,369.7" stroke="rgb(39,39,39)" stroke-width="0.7" fill="none" stroke-opacity="0.6"/>
<path d="M394.7,373.6 L407.1,373.1 L418.3,372.6 L428.3,372.2 L436.8,372.2" stroke="rgb(84,84,84)" stroke-width="0.7" fill="none" stroke-opacity="0.6"/>
<path d="M393.9,400.0 L398.1,399.9 L402.2,399.8 L406.2,399.7 L410.1,399.6 L410.1,399.6 L398.8,408.8 L386.2,417.7 L372.9,425.9 L359.2,433.4 L359.2,433.4 L354.5,432.9 L349.9,432.3 L345.2,431.7 L340.6,431.0 L340.6,431.0 L354.3,424.6 L368.0,417.1 L381.3,408.9 L393.9,400.0Z" fill="rgb(78,78,78)"/>
<path d="M397.3,400.5 L385.4,409.2 L372.6,417.3 L359.4,424.8 L346.1,431.3" stroke="rgb(113,113,113)" stroke-width="0.7" fill="none" stroke-opacity="0.6"/>
<path d="M401.5,400.4 L389.8,409.2 L377.2,417.5 L364.1,425.1 L350.7,431.9" stroke="rgb(54,54,54)" stroke-width="0.7" fill="none" stroke-opacity="0.6"/>
<path d="M405.5,400.3 L394.1,409.1 L381.7,417.6 L368.7,425.4 L355.4,432.5" stroke="rgb(113,113,113)" stroke-width="0.7" fill="none" stroke-opacity="0.6"/>
<path d="M296.6,423.6 L310.8,428.6 L325.8,432.6 L341.3,435.7 L357.1,437.9 L357.1,437.9 L353.0,439.8 L349.0,441.7 L345.0,443.4 L341.0,445.1 L341.0,445.1 L325.6,441.7 L310.9,437.3 L297.1,431.9 L284.3,425.4 L284.3,425.4 L287.2,425.2 L290.2,424.8 L293.4,424.3 L296.6,423.6Z" fill="rgb(42,42,42)"/>
<path d="M294.2,424.6 L307.7,429.8 L321.9,434.0 L336.8,437.3 L352.0,439.7" stroke="rgb(64,64,64)" stroke-width="0.7" fill="none" stroke-opacity="0.6"/>
<path d="M291.1,425.2 L304.2,430.7 L318.2,435.2 L332.9,438.8 L348.0,441.5" stroke="rgb(29,29,29)" stroke-width="0.7" fill="none" stroke-opacity="0.6"/>
<path d="M288.0,425.6 L300.8,431.4 L314.5,436.3 L329.0,440.2 L344.0,443.2" stroke="rgb(64,64,64)" stroke-width="0.7" fill="none" stroke-opacity="0.6"/>
<path d="M289.1,444.4 L292.5,446.6 L296.0,448.7 L299.7,450.7 L303.4,452.7 L303.4,452.7 L293.9,453.3 L286.2,452.6 L280.6,450.5 L277.1,447.1 L277.1,447.1 L275.8,444.6 L274.7,442.5 L273.7,440.5 L272.6,438.4 L272.6,438.4 L272.4,438.0 L275.8,441.5 L281.5,443.6 L289.1,444.4Z" fill="rgb(32,32,32)"/>
<path d="M291.9,446.6 L284.2,446.1 L278.2,444.4 L274.3,441.4" stroke="rgb(51,51,51)" stroke-width="0.7" fill="none" stroke-opacity="0.6"/>
<path d="M295.4,448.7 L287.2,448.6 L280.8,447.2 L276.3,444.5" stroke="rgb(22,22,22)" stroke-width="0.7" fill="none" stroke-opacity="0.6"/>
<path d="M299.0,450.8 L290.4,451.0 L283.4,450.0 L278.4,447.6" stroke="rgb(51,51,51)" stroke-width="0.7" fill="none" stroke-opacity="0.6"/>
<path d="M442.1,352.6 L443.2,354.6 L444.2,356.7 L445.3,358.7 L446.3,360.8 L446.3,360.8 L446.7,361.5 L447.9,364.2 L448.7,370.8 L447.2,378.3 L447.2,378.3 L445.3,378.2 L443.3,378.0 L441.1,377.9 L438.7,377.9 L438.7,377.9 L442.6,369.5 L444.1,362.0 L443.3,355.3 L442.1,352.6Z" fill="rgb(38,38,38)"/>
<path d="M444.0,356.3 L445.3,362.4 L444.4,369.5 L441.3,377.4" stroke="rgb(59,59,59)" stroke-width="0.7" fill="none" stroke-opacity="0.6"/>
<path d="M446.3,362.9 L446.0,369.8 L443.5,377.5" stroke="rgb(26,26,26)" stroke-width="0.7" fill="none" stroke-opacity="0.6"/>
<path d="M447.2,363.5 L447.4,370.2 L445.5,377.6" stroke="rgb(59,59,59)" stroke-width="0.7" fill="none" stroke-opacity="0.6"/>
<path d="M408.4,384.0 L420.5,383.4 L431.1,383.0 L440.3,382.9 L447.9,383.2 L447.9,383.2 L446.8,385.6 L445.6,388.1 L444.1,390.6 L442.5,393.2 L442.5,393.2 L432.8,393.5 L421.6,394.0 L409.1,394.5 L395.5,394.9 L395.5,394.9 L398.9,392.2 L402.2,389.5 L405.4,386.7 L408.4,384.0Z" fill="rgb(54,54,54)"/>
<path d="M406.2,386.7 L418.2,386.2 L429.0,385.7 L438.4,385.5 L446.4,385.6" stroke="rgb(80,80,80)" stroke-width="0.7" fill="none" stroke-opacity="0.6"/>
<path d="M403.1,389.5 L415.5,388.9 L426.7,388.5 L436.6,388.1 L445.1,388.1" stroke="rgb(37,37,37)" stroke-width="0.7" fill="none" stroke-opacity="0.6"/>
<path d="M399.8,392.2 L412.6,391.7 L424.2,391.2 L434.6,390.8 L443.6,390.6" stroke="rgb(80,80,80)" stroke-width="0.7" fill="none" stroke-opacity="0.6"/>
<path d="M398.7,418.6 L403.0,418.5 L407.2,418.4 L411.3,418.3 L415.3,418.2 L415.3,418.2 L403.6,427.4 L390.8,436.1 L377.4,444.1 L363.6,451.3 L363.6,451.3 L358.9,450.8 L354.3,450.1 L349.6,449.4 L345.0,448.6 L345.0,448.6 L358.7,442.5 L372.4,435.3 L385.9,427.3 L398.7,418.6Z" fill="rgb(78,78,78)"/>
<path d="M402.2,419.1 L390.0,427.6 L377.1,435.6 L363.8,442.8 L350.5,449.0" stroke="rgb(113,113,113)" stroke-width="0.7" fill="none" stroke-opacity="0.6"/>
<path d="M406.4,419.0 L394.5,427.7 L381.7,435.8 L368.5,443.2 L355.1,449.7" stroke="rgb(54,54,54)" stroke-width="0.7" fill="none" stroke-opacity="0.6"/>
<path d="M410.6,418.9 L398.9,427.7 L386.3,436.0 L373.1,443.6 L359.8,450.4" stroke="rgb(113,113,113)" stroke-width="0.7" fill="none" stroke-opacity="0.6"/>
<path d="M301.8,440.3 L315.7,445.6 L330.4,449.9 L345.7,453.3 L361.5,455.7 L361.5,455.7 L357.4,457.6 L353.4,459.4 L349.4,461.0 L345.5,462.5 L345.5,462.5 L330.3,458.9 L315.9,454.2 L302.4,448.4 L290.0,441.6 L290.0,441.6 L292.7,441.5 L295.6,441.2 L298.6,440.8 L301.8,440.3Z" fill="rgb(42,42,42)"/>
<path d="M299.5,441.2 L312.6,446.7 L326.6,451.2 L341.3,454.7 L356.4,457.5" stroke="rgb(64,64,64)" stroke-width="0.7" fill="none" stroke-opacity="0.6"/>
<path d="M296.4,441.6 L309.2,447.4 L323.0,452.3 L337.4,456.2 L352.4,459.2" stroke="rgb(29,29,29)" stroke-width="0.7" fill="none" stroke-opacity="0.6"/>
<path d="M293.5,441.9 L305.9,448.1 L319.4,453.3 L333.6,457.5 L348.4,460.8" stroke="rgb(64,64,64)" stroke-width="0.7" fill="none" stroke-opacity="0.6"/>
<path d="M295.0,460.3 L298.3,462.6 L301.7,464.9 L305.2,467.0 L308.8,469.0 L308.8,469.0 L299.8,469.3 L292.7,468.2 L287.6,465.7 L285.2,462.9 L285.2,462.9 L284.1,460.8 L283.1,458.7 L282.0,456.7 L281.0,454.6 L281.0,454.6 L280.6,453.9 L282.9,456.7 L287.9,459.2 L295.0,460.3Z" fill="rgb(31,31,31)"/>
<path d="M297.8,462.6 L290.5,461.8 L285.1,459.7 L281.8,456.3" stroke="rgb(49,49,49)" stroke-width="0.7" fill="none" stroke-opacity="0.6"/>
<path d="M301.1,464.9 L293.4,464.4 L287.5,462.6 L283.6,459.6" stroke="rgb(21,21,21)" stroke-width="0.7" fill="none" stroke-opacity="0.6"/>
<path d="M304.6,467.0 L296.4,466.9 L290.0,465.4 L285.6,462.7" stroke="rgb(49,49,49)" stroke-width="0.7" fill="none" stroke-opacity="0.6"/>
<path d="M450.5,368.8 L451.5,370.8 L452.6,372.9 L453.6,375.0 L454.7,377.0 L454.7,377.0 L455.1,377.8 L456.6,382.0 L456.8,388.8 L454.6,396.6 L454.6,396.6 L452.6,396.5 L450.4,396.4 L448.0,396.4 L445.5,396.4 L445.5,396.4 L449.9,387.8 L452.1,380.0 L452.0,373.1 L450.5,368.8Z" fill="rgb(40,40,40)"/>
<path d="M452.8,374.0 L453.5,380.4 L452.0,387.8 L448.3,395.8" stroke="rgb(62,62,62)" stroke-width="0.7" fill="none" stroke-opacity="0.6"/>
<path d="M453.4,374.7 L454.7,380.9 L453.7,388.0 L450.6,395.9" stroke="rgb(28,28,28)" stroke-width="0.7" fill="none" stroke-opacity="0.6"/>
<path d="M455.7,381.4 L455.3,388.3 L452.8,396.0" stroke="rgb(62,62,62)" stroke-width="0.7" fill="none" stroke-opacity="0.6"/>
<path d="M413.8,402.6 L426.2,402.1 L437.4,401.6 L447.0,401.4 L455.1,401.5 L455.1,401.5 L453.9,404.0 L452.5,406.5 L450.8,409.1 L449.0,411.8 L449.0,411.8 L438.8,412.1 L427.2,412.6 L414.4,413.1 L400.5,413.5 L400.5,413.5 L404.0,410.8 L407.4,408.1 L410.6,405.4 L413.8,402.6Z" fill="rgb(50,50,50)"/>
<path d="M411.5,405.3 L423.9,404.8 L435.1,404.4 L444.9,404.0 L453.4,404.0" stroke="rgb(75,75,75)" stroke-width="0.7" fill="none" stroke-opacity="0.6"/>
<path d="M408.2,408.1 L421.0,407.6 L432.6,407.1 L443.0,406.7 L451.9,406.5" stroke="rgb(35,35,35)" stroke-width="0.7" fill="none" stroke-opacity="0.6"/>
<path d="M404.8,410.8 L417.9,410.4 L430.0,409.9 L440.8,409.4 L450.3,409.1" stroke="rgb(75,75,75)" stroke-width="0.7" fill="none" stroke-opacity="0.6"/>
<path d="M403.5,437.1 L407.8,437.1 L412.1,437.0 L416.3,436.9 L420.4,436.8 L420.4,436.8 L408.4,445.9 L395.4,454.4 L381.8,462.3 L368.0,469.2 L368.0,469.2 L363.3,468.6 L358.7,467.8 L354.1,467.0 L349.5,466.2 L349.5,466.2 L363.1,460.4 L376.9,453.5 L390.4,445.6 L403.5,437.1Z" fill="rgb(77,77,77)"/>
<path d="M407.0,437.6 L394.6,446.0 L381.5,453.8 L368.2,460.7 L354.9,466.7" stroke="rgb(111,111,111)" stroke-width="0.7" fill="none" stroke-opacity="0.6"/>
<path d="M411.3,437.6 L399.1,446.1 L386.2,454.0 L372.9,461.2 L359.6,467.5" stroke="rgb(53,53,53)" stroke-width="0.7" fill="none" stroke-opacity="0.6"/>
<path d="M415.5,437.5 L403.5,446.1 L390.8,454.3 L377.5,461.7 L364.2,468.2" stroke="rgb(111,111,111)" stroke-width="0.7" fill="none" stroke-opacity="0.6"/>
<path d="M307.0,456.8 L320.6,462.5 L335.1,467.1 L350.2,470.8 L365.9,473.5 L365.9,473.5 L361.8,475.3 L357.9,477.0 L353.9,478.5 L350.0,479.9 L350.0,479.9 L335.1,475.9 L320.9,470.9 L307.7,464.8 L295.8,457.7 L295.8,457.7 L298.4,457.6 L301.1,457.5 L304.0,457.2 L307.0,456.8Z" fill="rgb(43,43,43)"/>
<path d="M304.8,457.6 L317.6,463.4 L331.4,468.3 L345.9,472.1 L360.9,475.1" stroke="rgb(66,66,66)" stroke-width="0.7" fill="none" stroke-opacity="0.6"/>
<path d="M301.9,457.9 L314.3,464.1 L327.8,469.3 L342.0,473.5 L356.9,476.8" stroke="rgb(30,30,30)" stroke-width="0.7" fill="none" stroke-opacity="0.6"/>
<path d="M299.1,458.1 L311.2,464.6 L324.3,470.1 L338.3,474.7 L352.9,478.3" stroke="rgb(66,66,66)" stroke-width="0.7" fill="none" stroke-opacity="0.6"/>
<path d="M301.1,476.2 L304.2,478.6 L307.5,480.9 L310.9,483.1 L314.4,485.3 L314.4,485.3 L305.9,485.2 L299.3,483.7 L294.8,480.8 L293.5,479.1 L293.5,479.1 L292.5,477.0 L291.4,475.0 L290.4,472.9 L289.3,470.9 L289.3,470.9 L288.9,470.1 L290.1,471.7 L294.5,474.6 L301.1,476.2Z" fill="rgb(30,30,30)"/>
<path d="M303.7,478.6 L297.0,477.3 L292.2,474.9" stroke="rgb(48,48,48)" stroke-width="0.7" fill="none" stroke-opacity="0.6"/>
<path d="M306.9,480.9 L299.7,480.0 L294.4,477.9 L291.2,474.5" stroke="rgb(21,21,21)" stroke-width="0.7" fill="none" stroke-opacity="0.6"/>
<path d="M310.3,483.2 L302.6,482.6 L296.8,480.8 L293.0,477.7" stroke="rgb(48,48,48)" stroke-width="0.7" fill="none" stroke-opacity="0.6"/>
<path d="M458.8,385.0 L459.9,387.1 L460.9,389.1 L462.0,391.2 L463.0,393.3 L463.0,393.3 L463.4,394.0 L465.1,399.8 L464.6,407.0 L461.9,415.0 L461.9,415.0 L459.6,414.9 L457.3,414.9 L454.8,414.9 L452.1,414.9 L452.1,414.9 L457.2,406.2 L460.0,398.2 L460.5,391.0 L458.8,385.0Z" fill="rgb(41,41,41)"/>
<path d="M461.5,391.8 L461.5,398.5 L459.4,406.1 L455.1,414.3" stroke="rgb(63,63,63)" stroke-width="0.7" fill="none" stroke-opacity="0.6"/>
<path d="M462.2,392.4 L462.9,398.9 L461.3,406.2 L457.6,414.3" stroke="rgb(28,28,28)" stroke-width="0.7" fill="none" stroke-opacity="0.6"/>
<path d="M462.9,393.1 L464.1,399.3 L463.1,406.4 L459.9,414.4" stroke="rgb(63,63,63)" stroke-width="0.7" fill="none" stroke-opacity="0.6"/>
<path d="M419.0,421.3 L431.9,420.7 L443.4,420.2 L453.6,419.9 L462.2,419.9 L462.2,419.9 L460.8,422.4 L459.2,425.0 L457.4,427.7 L455.4,430.4 L455.4,430.4 L444.7,430.8 L432.7,431.3 L419.5,431.8 L405.3,432.1 L405.3,432.1 L408.9,429.4 L412.4,426.7 L415.8,424.0 L419.0,421.3Z" fill="rgb(46,46,46)"/>
<path d="M416.6,424.0 L429.4,423.5 L441.0,423.0 L451.3,422.6 L460.2,422.4" stroke="rgb(70,70,70)" stroke-width="0.7" fill="none" stroke-opacity="0.6"/>
<path d="M413.3,426.7 L426.3,426.3 L438.4,425.7 L449.2,425.3 L458.6,425.0" stroke="rgb(32,32,32)" stroke-width="0.7" fill="none" stroke-opacity="0.6"/>
<path d="M409.8,429.4 L423.2,429.0 L435.6,428.5 L446.9,428.0 L456.8,427.7" stroke="rgb(70,70,70)" stroke-width="0.7" fill="none" stroke-opacity="0.6"/>
<path d="M408.1,455.6 L412.5,455.6 L416.9,455.6 L421.2,455.5 L425.4,455.4 L425.4,455.4 L413.0,464.4 L399.8,472.7 L386.2,480.3 L372.4,487.0 L372.4,487.0 L367.8,486.3 L363.2,485.5 L358.6,484.6 L354.0,483.6 L354.0,483.6 L367.5,478.1 L381.2,471.5 L394.9,463.9 L408.1,455.6Z" fill="rgb(75,75,75)"/>
<path d="M411.7,456.1 L399.1,464.4 L385.9,471.9 L372.6,478.6 L359.4,484.3" stroke="rgb(109,109,109)" stroke-width="0.7" fill="none" stroke-opacity="0.6"/>
<path d="M416.1,456.1 L403.6,464.5 L390.6,472.2 L377.2,479.2 L364.0,485.1" stroke="rgb(52,52,52)" stroke-width="0.7" fill="none" stroke-opacity="0.6"/>
<path d="M420.4,456.1 L408.2,464.6 L395.2,472.5 L381.9,479.7 L368.6,485.9" stroke="rgb(109,109,109)" stroke-width="0.7" fill="none" stroke-opacity="0.6"/>
<path d="M312.4,473.2 L325.6,479.2 L339.8,484.2 L354.8,488.2 L370.3,491.2 L370.3,491.2 L366.3,492.9 L362.4,494.5 L358.5,495.9 L354.6,497.2 L354.6,497.2 L339.9,492.9 L326.0,487.6 L313.2,481.1 L301.7,473.6 L301.7,473.6 L304.1,473.7 L306.7,473.7 L309.5,473.5 L312.4,473.2Z" fill="rgb(43,43,43)"/>
<path d="M310.3,473.9 L322.7,480.1 L336.2,485.2 L350.5,489.4 L365.3,492.7" stroke="rgb(66,66,66)" stroke-width="0.7" fill="none" stroke-opacity="0.6"/>
<path d="M307.5,474.1 L319.6,480.6 L332.7,486.1 L346.7,490.7 L361.4,494.3" stroke="rgb(30,30,30)" stroke-width="0.7" fill="none" stroke-opacity="0.6"/>
<path d="M304.8,474.2 L316.5,481.1 L329.3,486.9 L343.0,491.8 L357.5,495.7" stroke="rgb(66,66,66)" stroke-width="0.7" fill="none" stroke-opacity="0.6"/>
<path d="M307.3,491.9 L310.3,494.4 L313.4,496.9 L316.7,499.2 L320.0,501.4 L320.0,501.4 L312.1,500.9 L306.0,499.0 L302.2,495.8 L301.9,495.3 L301.9,495.3 L300.8,493.3 L299.8,491.2 L298.7,489.2 L297.6,487.1 L297.6,487.1 L297.3,486.4 L297.5,486.7 L301.3,490.0 L307.3,491.9Z" fill="rgb(28,28,28)"/>
<path d="M309.8,494.4 L303.6,492.8 L299.4,489.9" stroke="rgb(45,45,45)" stroke-width="0.7" fill="none" stroke-opacity="0.6"/>
<path d="M312.9,496.8 L306.2,495.6 L301.5,493.1" stroke="rgb(19,19,19)" stroke-width="0.7" fill="none" stroke-opacity="0.6"/>
<path d="M316.1,499.2 L309.0,498.3 L303.7,496.1 L300.5,492.7" stroke="rgb(45,45,45)" stroke-width="0.7" fill="none" stroke-opacity="0.6"/>
<path d="M467.7,402.5 L468.2,403.3 L469.3,405.4 L470.3,407.4 L471.4,409.5 L471.4,409.5 L472.2,411.3 L473.5,417.7 L472.3,425.2 L468.9,433.4 L468.9,433.4 L466.5,433.4 L464.0,433.4 L461.4,433.4 L458.6,433.4 L458.6,433.4 L464.2,424.6 L467.7,416.4 L468.8,408.9 L467.7,402.5Z" fill="rgb(45,45,45)"/>
<path d="M468.3,403.6 L469.9,409.6 L469.3,416.6 L466.6,424.4 L461.7,432.8" stroke="rgb(68,68,68)" stroke-width="0.7" fill="none" stroke-opacity="0.6"/>
<path d="M470.9,410.2 L470.9,416.9 L468.7,424.5 L464.4,432.8" stroke="rgb(31,31,31)" stroke-width="0.7" fill="none" stroke-opacity="0.6"/>
<path d="M471.7,410.8 L472.2,417.3 L470.6,424.7 L466.9,432.8" stroke="rgb(68,68,68)" stroke-width="0.7" fill="none" stroke-opacity="0.6"/>
<path d="M424.2,439.9 L437.4,439.4 L449.3,438.9 L460.0,438.5 L469.1,438.3 L469.1,438.3 L467.5,440.9 L465.7,443.6 L463.8,446.2 L461.6,448.9 L461.6,448.9 L450.5,449.4 L438.1,449.9 L424.5,450.4 L410.0,450.6 L410.0,450.6 L413.7,448.0 L417.3,445.3 L420.8,442.6 L424.2,439.9Z" fill="rgb(43,43,43)"/>
<path d="M421.7,442.6 L434.7,442.2 L446.7,441.6 L457.5,441.2 L466.9,440.9" stroke="rgb(66,66,66)" stroke-width="0.7" fill="none" stroke-opacity="0.6"/>
<path d="M418.2,445.3 L431.6,444.9 L444.0,444.4 L455.2,443.9 L465.1,443.6" stroke="rgb(30,30,30)" stroke-width="0.7" fill="none" stroke-opacity="0.6"/>
<path d="M414.6,448.0 L428.3,447.7 L441.1,447.2 L452.8,446.7 L463.1,446.3" stroke="rgb(66,66,66)" stroke-width="0.7" fill="none" stroke-opacity="0.6"/>
<path d="M412.7,474.0 L417.2,474.1 L421.6,474.1 L426.0,474.0 L430.3,474.0 L430.3,474.0 L417.7,482.8 L404.3,491.0 L390.6,498.3 L376.8,504.7 L376.8,504.7 L372.2,503.9 L367.6,503.0 L363.1,502.0 L358.6,501.0 L358.6,501.0 L371.9,495.8 L385.6,489.5 L399.4,482.2 L412.7,474.0Z" fill="rgb(73,73,73)"/>
<path d="M416.4,474.6 L403.6,482.7 L390.3,490.0 L377.0,496.4 L363.9,501.7" stroke="rgb(106,106,106)" stroke-width="0.7" fill="none" stroke-opacity="0.6"/>
<path d="M420.8,474.6 L408.2,482.8 L395.0,490.4 L381.6,497.0 L368.5,502.7" stroke="rgb(51,51,51)" stroke-width="0.7" fill="none" stroke-opacity="0.6"/>
<path d="M425.2,474.6 L412.7,483.0 L399.6,490.7 L386.3,497.6 L373.1,503.5" stroke="rgb(106,106,106)" stroke-width="0.7" fill="none" stroke-opacity="0.6"/>
<path d="M317.9,489.5 L330.7,495.9 L344.6,501.2 L359.4,505.5 L374.7,508.8 L374.7,508.8 L370.8,510.4 L366.9,511.9 L363.1,513.2 L359.3,514.4 L359.3,514.4 L344.8,509.8 L331.3,504.1 L318.9,497.3 L307.8,489.5 L307.8,489.5 L310.0,489.7 L312.5,489.7 L315.1,489.7 L317.9,489.5Z" fill="rgb(43,43,43)"/>
<path d="M315.9,490.1 L328.0,496.6 L341.1,502.1 L355.1,506.6 L369.8,510.2" stroke="rgb(66,66,66)" stroke-width="0.7" fill="none" stroke-opacity="0.6"/>
<path d="M313.2,490.2 L324.9,497.1 L337.7,502.9 L351.5,507.7 L365.9,511.6" stroke="rgb(30,30,30)" stroke-width="0.7" fill="none" stroke-opacity="0.6"/>
<path d="M310.7,490.2 L322.0,497.4 L334.5,503.6 L347.9,508.7 L362.1,513.0" stroke="rgb(66,66,66)" stroke-width="0.7" fill="none" stroke-opacity="0.6"/>
<path d="M313.6,507.5 L316.5,510.2 L319.5,512.7 L322.6,515.1 L325.9,517.5 L325.9,517.5 L318.4,516.6 L313.0,514.3 L309.8,510.8 L310.2,511.6 L310.2,511.6 L309.2,509.5 L308.1,507.5 L307.0,505.4 L306.0,503.3 L306.0,503.3 L305.6,502.6 L305.2,501.9 L308.3,505.2 L313.6,507.5Z" fill="rgb(27,27,27)"/>
<path d="M316.1,510.1 L310.4,508.1 L306.9,504.9" stroke="rgb(44,44,44)" stroke-width="0.7" fill="none" stroke-opacity="0.6"/>
<path d="M319.0,512.6 L312.9,511.0 L308.8,508.1" stroke="rgb(18,18,18)" stroke-width="0.7" fill="none" stroke-opacity="0.6"/>
<path d="M322.1,515.1 L315.5,513.8 L310.8,511.3" stroke="rgb(44,44,44)" stroke-width="0.7" fill="none" stroke-opacity="0.6"/>
<path d="M476.5,420.2 L477.1,420.9 L477.6,421.7 L478.7,423.7 L479.7,425.7 L479.7,425.7 L481.1,429.0 L481.6,435.8 L479.9,443.4 L475.8,451.8 L475.8,451.8 L473.3,451.8 L470.6,451.9 L467.8,451.9 L464.9,452.0 L464.9,452.0 L471.1,443.1 L475.2,434.6 L477.0,426.9 L476.5,420.2Z" fill="rgb(49,49,49)"/>
<path d="M477.3,421.3 L478.2,427.6 L477.0,434.8 L473.6,442.8 L468.2,451.4" stroke="rgb(74,74,74)" stroke-width="0.7" fill="none" stroke-opacity="0.6"/>
<path d="M477.8,422.0 L479.3,428.1 L478.7,435.1 L475.9,442.9 L471.0,451.3" stroke="rgb(34,34,34)" stroke-width="0.7" fill="none" stroke-opacity="0.6"/>
<path d="M480.3,428.6 L480.2,435.4 L478.0,443.0 L473.6,451.3" stroke="rgb(74,74,74)" stroke-width="0.7" fill="none" stroke-opacity="0.6"/>
<path d="M429.2,458.5 L442.7,458.1 L455.1,457.5 L466.2,457.1 L475.8,456.8 L475.8,456.8 L474.1,459.5 L472.1,462.1 L470.0,464.8 L467.7,467.6 L467.7,467.6 L456.1,468.1 L443.3,468.6 L429.4,469.0 L414.7,469.1 L414.7,469.1 L418.5,466.5 L422.1,463.9 L425.7,461.2 L429.2,458.5Z" fill="rgb(43,43,43)"/>
<path d="M426.6,461.2 L440.0,460.8 L452.4,460.3 L463.6,459.8 L473.5,459.5" stroke="rgb(66,66,66)" stroke-width="0.7" fill="none" stroke-opacity="0.6"/>
<path d="M423.1,463.9 L436.7,463.5 L449.5,463.1 L461.1,462.6 L471.5,462.2" stroke="rgb(30,30,30)" stroke-width="0.7" fill="none" stroke-opacity="0.6"/>
<path d="M419.4,466.5 L433.4,466.3 L446.5,465.8 L458.5,465.3 L469.3,464.9" stroke="rgb(66,66,66)" stroke-width="0.7" fill="none" stroke-opacity="0.6"/>
<path d="M417.3,492.4 L421.8,492.5 L426.3,492.5 L430.7,492.6 L435.1,492.5 L435.1,492.5 L422.2,501.2 L408.7,509.2 L394.9,516.2 L381.3,522.3 L381.3,522.3 L376.7,521.4 L372.2,520.4 L367.7,519.4 L363.3,518.2 L363.3,518.2 L376.4,513.4 L390.0,507.4 L403.8,500.3 L417.3,492.4Z" fill="rgb(71,71,71)"/>
<path d="M421.0,493.0 L408.0,500.9 L394.7,507.9 L381.4,514.1 L368.5,519.1" stroke="rgb(103,103,103)" stroke-width="0.7" fill="none" stroke-opacity="0.6"/>
<path d="M425.5,493.1 L412.6,501.1 L399.4,508.4 L386.0,514.8 L373.0,520.1" stroke="rgb(49,49,49)" stroke-width="0.7" fill="none" stroke-opacity="0.6"/>
<path d="M429.9,493.1 L417.2,501.3 L404.0,508.8 L390.7,515.4 L377.6,521.1" stroke="rgb(103,103,103)" stroke-width="0.7" fill="none" stroke-opacity="0.6"/>
<path d="M323.5,505.7 L336.0,512.4 L349.5,518.1 L364.0,522.7 L379.2,526.4 L379.2,526.4 L375.3,527.8 L371.5,529.2 L367.7,530.4 L364.1,531.5 L364.1,531.5 L349.9,526.6 L336.7,520.5 L324.6,513.4 L314.0,505.2 L314.0,505.2 L316.1,505.5 L318.4,505.7 L320.9,505.8 L323.5,505.7Z" fill="rgb(44,44,44)"/>
<path d="M321.6,506.3 L333.3,513.1 L346.1,518.9 L359.9,523.7 L374.4,527.6" stroke="rgb(67,67,67)" stroke-width="0.7" fill="none" stroke-opacity="0.6"/>
<path d="M319.1,506.2 L330.4,513.4 L342.9,519.6 L356.3,524.7 L370.6,528.9" stroke="rgb(30,30,30)" stroke-width="0.7" fill="none" stroke-opacity="0.6"/>
<path d="M316.8,506.0 L327.6,513.6 L339.7,520.1 L352.8,525.6 L366.8,530.2" stroke="rgb(67,67,67)" stroke-width="0.7" fill="none" stroke-opacity="0.6"/>
<path d="M320.2,523.1 L322.9,525.8 L325.7,528.4 L328.7,530.9 L331.8,533.4 L331.8,533.4 L324.9,532.1 L320.1,529.4 L318.2,527.1 L318.6,527.8 L318.6,527.8 L317.5,525.7 L316.4,523.7 L315.4,521.6 L314.3,519.6 L314.3,519.6 L314.0,518.8 L313.6,518.1 L315.4,520.4 L320.2,523.1Z" fill="rgb(26,26,26)"/>
<path d="M322.5,525.7 L317.4,523.4" stroke="rgb(43,43,43)" stroke-width="0.7" fill="none" stroke-opacity="0.6"/>
<path d="M325.3,528.3 L319.7,526.3 L316.2,523.1" stroke="rgb(18,18,18)" stroke-width="0.7" fill="none" stroke-opacity="0.6"/>
<path d="M328.3,530.9 L322.2,529.2 L318.1,526.3" stroke="rgb(43,43,43)" stroke-width="0.7" fill="none" stroke-opacity="0.6"/>
<path d="M485.1,438.0 L485.9,438.6 L486.6,439.3 L487.1,440.1 L488.1,442.0 L488.1,442.0 L489.7,446.8 L489.6,453.8 L487.2,461.7 L482.5,470.3 L482.5,470.3 L479.9,470.4 L477.0,470.4 L474.1,470.5 L471.0,470.6 L471.0,470.6 L477.8,461.6 L482.5,452.9 L485.0,445.0 L485.1,438.0Z" fill="rgb(53,53,53)"/>
<path d="M486.0,439.0 L486.3,445.6 L484.5,453.1 L480.5,461.3 L474.5,470.0" stroke="rgb(79,79,79)" stroke-width="0.7" fill="none" stroke-opacity="0.6"/>
<path d="M486.7,439.7 L487.6,446.0 L486.3,453.3 L482.9,461.3 L477.5,469.9" stroke="rgb(37,37,37)" stroke-width="0.7" fill="none" stroke-opacity="0.6"/>
<path d="M487.3,440.4 L488.7,446.5 L488.0,453.5 L485.2,461.4 L480.2,469.8" stroke="rgb(79,79,79)" stroke-width="0.7" fill="none" stroke-opacity="0.6"/>
<path d="M434.1,477.1 L448.0,476.7 L460.8,476.2 L472.3,475.7 L482.4,475.4 L482.4,475.4 L480.5,478.0 L478.3,480.7 L476.1,483.5 L473.6,486.2 L473.6,486.2 L461.6,486.7 L448.4,487.2 L434.3,487.5 L419.3,487.5 L419.3,487.5 L423.1,485.0 L426.9,482.4 L430.6,479.8 L434.1,477.1Z" fill="rgb(42,42,42)"/>
<path d="M431.5,479.7 L445.1,479.4 L457.9,479.0 L469.5,478.4 L479.8,478.0" stroke="rgb(64,64,64)" stroke-width="0.7" fill="none" stroke-opacity="0.6"/>
<path d="M427.8,482.4 L441.8,482.2 L454.9,481.7 L466.9,481.2 L477.7,480.8" stroke="rgb(29,29,29)" stroke-width="0.7" fill="none" stroke-opacity="0.6"/>
<path d="M424.1,485.0 L438.3,484.9 L451.7,484.5 L464.1,484.0 L475.4,483.5" stroke="rgb(64,64,64)" stroke-width="0.7" fill="none" stroke-opacity="0.6"/>
<path d="M421.8,510.7 L426.4,510.9 L430.9,511.0 L435.4,511.0 L439.8,511.0 L439.8,511.0 L426.7,519.5 L413.1,527.3 L399.3,534.1 L385.8,539.8 L385.8,539.8 L381.3,538.8 L376.8,537.7 L372.3,536.6 L368.0,535.4 L368.0,535.4 L380.9,530.9 L394.4,525.2 L408.2,518.4 L421.8,510.7Z" fill="rgb(69,69,69)"/>
<path d="M425.5,511.4 L412.4,519.0 L399.1,525.8 L385.9,531.7 L373.1,536.3" stroke="rgb(101,101,101)" stroke-width="0.7" fill="none" stroke-opacity="0.6"/>
<path d="M430.1,511.5 L417.1,519.3 L403.8,526.4 L390.5,532.5 L377.6,537.5" stroke="rgb(48,48,48)" stroke-width="0.7" fill="none" stroke-opacity="0.6"/>
<path d="M434.6,511.6 L421.7,519.6 L408.4,526.9 L395.1,533.2 L382.1,538.5" stroke="rgb(101,101,101)" stroke-width="0.7" fill="none" stroke-opacity="0.6"/>
<path d="M329.2,521.8 L341.3,528.9 L354.6,534.9 L368.8,539.8 L383.8,543.8 L383.8,543.8 L379.9,545.1 L376.2,546.4 L372.5,547.5 L368.9,548.5 L368.9,548.5 L355.0,543.2 L342.1,536.8 L330.5,529.3 L320.3,520.8 L320.3,520.8 L322.3,521.2 L324.5,521.6 L326.8,521.7 L329.2,521.8Z" fill="rgb(44,44,44)"/>
<path d="M327.5,522.2 L338.8,529.4 L351.3,535.6 L364.7,540.7 L379.0,544.9" stroke="rgb(67,67,67)" stroke-width="0.7" fill="none" stroke-opacity="0.6"/>
<path d="M325.1,522.1 L336.0,529.6 L348.1,536.1 L361.2,541.6 L375.2,546.1" stroke="rgb(30,30,30)" stroke-width="0.7" fill="none" stroke-opacity="0.6"/>
<path d="M322.9,521.8 L333.4,529.7 L345.1,536.5 L357.8,542.4 L371.6,547.2" stroke="rgb(67,67,67)" stroke-width="0.7" fill="none" stroke-opacity="0.6"/>
<path d="M326.9,538.5 L329.4,541.3 L332.1,544.0 L335.0,546.7 L337.9,549.2 L337.9,549.2 L331.6,547.5 L327.4,544.5 L326.5,543.3 L326.9,544.0 L326.9,544.0 L325.8,542.0 L324.8,539.9 L323.7,537.9 L322.7,535.8 L322.7,535.8 L322.3,535.1 L321.9,534.3 L322.7,535.4 L326.9,538.5Z" fill="rgb(34,34,34)"/>
<path d="M329.1,541.2 L324.6,538.5" stroke="rgb(53,53,53)" stroke-width="0.7" fill="none" stroke-opacity="0.6"/>
<path d="M331.7,543.9 L326.7,541.6" stroke="rgb(23,23,23)" stroke-width="0.7" fill="none" stroke-opacity="0.6"/>
<path d="M334.5,546.6 L329.0,544.5 L325.5,541.3" stroke="rgb(53,53,53)" stroke-width="0.7" fill="none" stroke-opacity="0.6"/>
<path d="M493.5,455.9 L494.5,456.4 L495.3,457.1 L496.0,457.7 L496.6,458.5 L496.6,458.5 L498.1,464.7 L497.4,472.0 L494.3,480.1 L489.1,488.9 L489.1,488.9 L486.3,488.9 L483.3,489.0 L480.2,489.1 L477.0,489.3 L477.0,489.3 L484.3,480.1 L489.6,471.3 L492.7,463.2 L493.5,455.9Z" fill="rgb(57,57,57)"/>
<path d="M494.6,456.9 L494.3,463.7 L491.8,471.4 L487.2,479.8 L480.7,488.6" stroke="rgb(84,84,84)" stroke-width="0.7" fill="none" stroke-opacity="0.6"/>
<path d="M495.4,457.4 L495.7,464.1 L493.8,471.6 L489.8,479.7 L483.8,488.4" stroke="rgb(39,39,39)" stroke-width="0.7" fill="none" stroke-opacity="0.6"/>
<path d="M496.2,458.1 L497.0,464.5 L495.7,471.8 L492.2,479.8 L486.7,488.4" stroke="rgb(84,84,84)" stroke-width="0.7" fill="none" stroke-opacity="0.6"/>
<path d="M439.0,495.7 L453.1,495.3 L466.3,494.8 L478.2,494.3 L488.8,493.9 L488.8,493.9 L486.7,496.6 L484.4,499.3 L482.0,502.1 L479.4,504.9 L479.4,504.9 L467.0,505.4 L453.5,505.8 L439.0,506.0 L423.9,505.9 L423.9,505.9 L427.7,503.4 L431.6,500.9 L435.3,498.3 L439.0,495.7Z" fill="rgb(42,42,42)"/>
<path d="M436.3,498.3 L450.2,498.1 L463.3,497.6 L475.3,497.1 L486.0,496.6" stroke="rgb(64,64,64)" stroke-width="0.7" fill="none" stroke-opacity="0.6"/>
<path d="M432.5,500.9 L446.7,500.7 L460.1,500.4 L472.5,499.9 L483.7,499.4" stroke="rgb(29,29,29)" stroke-width="0.7" fill="none" stroke-opacity="0.6"/>
<path d="M428.7,503.4 L443.1,503.4 L456.8,503.1 L469.6,502.6 L481.3,502.1" stroke="rgb(64,64,64)" stroke-width="0.7" fill="none" stroke-opacity="0.6"/>
<path d="M426.3,529.0 L430.9,529.2 L435.5,529.3 L440.0,529.4 L444.5,529.5 L444.5,529.5 L431.2,537.8 L417.5,545.3 L403.7,551.8 L390.3,557.2 L390.3,557.2 L385.9,556.1 L381.4,555.0 L377.1,553.7 L372.8,552.4 L372.8,552.4 L385.4,548.3 L398.8,543.0 L412.6,536.5 L426.3,529.0Z" fill="rgb(67,67,67)"/>
<path d="M430.0,529.7 L416.8,537.1 L403.5,543.7 L390.4,549.2 L377.8,553.5" stroke="rgb(98,98,98)" stroke-width="0.7" fill="none" stroke-opacity="0.6"/>
<path d="M434.6,529.9 L421.5,537.5 L408.1,544.3 L394.9,550.1 L382.2,554.7" stroke="rgb(46,46,46)" stroke-width="0.7" fill="none" stroke-opacity="0.6"/>
<path d="M439.2,530.0 L426.1,537.8 L412.8,544.8 L399.5,550.9 L386.7,555.8" stroke="rgb(98,98,98)" stroke-width="0.7" fill="none" stroke-opacity="0.6"/>
<path d="M335.1,537.8 L346.8,545.2 L359.7,551.6 L373.6,556.8 L388.4,561.1 L388.4,561.1 L384.6,562.4 L380.9,563.5 L377.3,564.5 L373.8,565.4 L373.8,565.4 L360.2,559.7 L347.8,553.0 L336.6,545.2 L326.9,536.3 L326.9,536.3 L328.7,536.9 L330.7,537.3 L332.8,537.6 L335.1,537.8Z" fill="rgb(44,44,44)"/>
<path d="M333.5,538.1 L344.4,545.6 L356.5,552.1 L369.7,557.6 L383.7,562.1" stroke="rgb(67,67,67)" stroke-width="0.7" fill="none" stroke-opacity="0.6"/>
<path d="M331.3,537.8 L341.7,545.7 L353.4,552.5 L366.3,558.4 L380.0,563.2" stroke="rgb(30,30,30)" stroke-width="0.7" fill="none" stroke-opacity="0.6"/>
<path d="M329.3,537.4 L339.3,545.6 L350.5,552.8 L363.0,559.0 L376.4,564.2" stroke="rgb(67,67,67)" stroke-width="0.7" fill="none" stroke-opacity="0.6"/>
<path d="M333.7,553.8 L336.1,556.7 L338.7,559.5 L341.4,562.3 L344.2,564.9 L344.2,564.9 L338.4,562.8 L334.9,559.5 L334.9,559.5 L335.2,560.3 L335.2,560.3 L334.2,558.2 L333.1,556.2 L332.1,554.1 L331.0,552.0 L331.0,552.0 L330.6,551.3 L330.3,550.6 L330.2,550.4 L333.7,553.8Z" fill="rgb(34,34,34)"/>
<path d="M335.8,556.6 L331.9,553.5" stroke="rgb(53,53,53)" stroke-width="0.7" fill="none" stroke-opacity="0.6"/>
<path d="M338.3,559.4 L333.9,556.7" stroke="rgb(23,23,23)" stroke-width="0.7" fill="none" stroke-opacity="0.6"/>
<path d="M341.0,562.1 L336.0,559.8" stroke="rgb(53,53,53)" stroke-width="0.7" fill="none" stroke-opacity="0.6"/>
<path d="M501.8,473.9 L502.9,474.3 L503.9,474.9 L504.8,475.5 L505.5,476.2 L505.5,476.2 L506.4,482.7 L505.0,490.2 L501.3,498.5 L495.5,507.4 L495.5,507.4 L492.5,507.5 L489.4,507.6 L486.2,507.8 L482.8,507.9 L482.8,507.9 L490.7,498.7 L496.6,489.7 L500.3,481.4 L501.8,473.9Z" fill="rgb(61,61,61)"/>
<path d="M502.9,474.8 L502.0,481.9 L498.9,489.8 L493.8,498.3 L486.7,507.2" stroke="rgb(90,90,90)" stroke-width="0.7" fill="none" stroke-opacity="0.6"/>
<path d="M504.0,475.3 L503.6,482.2 L501.1,489.9 L496.5,498.2 L489.9,507.1" stroke="rgb(42,42,42)" stroke-width="0.7" fill="none" stroke-opacity="0.6"/>
<path d="M504.9,475.9 L505.1,482.5 L503.1,490.0 L499.1,498.2 L493.0,506.9" stroke="rgb(90,90,90)" stroke-width="0.7" fill="none" stroke-opacity="0.6"/>
<path d="M443.7,514.2 L458.2,514.0 L471.7,513.5 L484.0,513.0 L495.0,512.5 L495.0,512.5 L492.8,515.2 L490.4,518.0 L487.8,520.7 L485.0,523.5 L485.0,523.5 L472.2,524.0 L458.4,524.4 L443.7,524.5 L428.4,524.2 L428.4,524.2 L432.3,521.8 L436.2,519.3 L440.0,516.8 L443.7,514.2Z" fill="rgb(42,42,42)"/>
<path d="M440.9,516.8 L455.1,516.6 L468.5,516.3 L480.9,515.8 L492.1,515.3" stroke="rgb(64,64,64)" stroke-width="0.7" fill="none" stroke-opacity="0.6"/>
<path d="M437.1,519.3 L451.6,519.3 L465.3,519.0 L478.0,518.5 L489.6,518.0" stroke="rgb(29,29,29)" stroke-width="0.7" fill="none" stroke-opacity="0.6"/>
<path d="M433.3,521.8 L447.9,521.9 L461.9,521.7 L475.0,521.3 L487.0,520.8" stroke="rgb(64,64,64)" stroke-width="0.7" fill="none" stroke-opacity="0.6"/>
<path d="M430.7,547.2 L435.3,547.5 L440.0,547.7 L444.5,547.8 L449.1,547.9 L449.1,547.9 L435.6,556.0 L421.9,563.3 L408.2,569.5 L394.9,574.5 L394.9,574.5 L390.5,573.3 L386.2,572.1 L381.9,570.8 L377.6,569.3 L377.6,569.3 L390.0,565.6 L403.3,560.6 L417.0,554.4 L430.7,547.2Z" fill="rgb(65,65,65)"/>
<path d="M434.5,548.0 L421.2,555.1 L407.9,561.4 L394.9,566.6 L382.6,570.6" stroke="rgb(95,95,95)" stroke-width="0.7" fill="none" stroke-opacity="0.6"/>
<path d="M439.1,548.2 L425.9,555.6 L412.5,562.1 L399.4,567.6 L386.9,571.9" stroke="rgb(45,45,45)" stroke-width="0.7" fill="none" stroke-opacity="0.6"/>
<path d="M443.7,548.3 L430.5,555.9 L417.2,562.7 L404.0,568.5 L391.3,573.1" stroke="rgb(95,95,95)" stroke-width="0.7" fill="none" stroke-opacity="0.6"/>
<path d="M341.2,553.6 L352.4,561.4 L364.9,568.1 L378.5,573.7 L393.0,578.3 L393.0,578.3 L389.3,579.5 L385.7,580.5 L382.2,581.4 L378.8,582.2 L378.8,582.2 L365.6,576.2 L353.5,569.1 L342.8,560.9 L333.6,551.7 L333.6,551.7 L335.2,552.4 L337.0,552.9 L339.0,553.3 L341.2,553.6Z" fill="rgb(44,44,44)"/>
<path d="M339.6,553.9 L350.1,561.7 L361.8,568.5 L374.7,574.4 L388.4,579.2" stroke="rgb(67,67,67)" stroke-width="0.7" fill="none" stroke-opacity="0.6"/>
<path d="M337.6,553.5 L347.6,561.7 L358.9,568.9 L371.4,575.0 L384.8,580.2" stroke="rgb(30,30,30)" stroke-width="0.7" fill="none" stroke-opacity="0.6"/>
<path d="M335.8,553.0 L345.3,561.5 L356.1,569.0 L368.2,575.6 L381.3,581.1" stroke="rgb(67,67,67)" stroke-width="0.7" fill="none" stroke-opacity="0.6"/>
<path d="M340.7,569.0 L343.0,572.0 L345.4,574.9 L347.9,577.8 L350.6,580.5 L350.6,580.5 L345.5,578.1 L342.8,575.1 L343.2,575.8 L343.6,576.5 L343.6,576.5 L342.5,574.5 L341.5,572.4 L340.4,570.3 L339.4,568.3 L339.4,568.3 L339.0,567.6 L338.6,566.8 L338.2,566.1 L340.7,569.0Z" fill="rgb(34,34,34)"/>
<path d="M342.7,571.8 L339.5,568.5" stroke="rgb(53,53,53)" stroke-width="0.7" fill="none" stroke-opacity="0.6"/>
<path d="M345.1,574.8 L341.3,571.7" stroke="rgb(23,23,23)" stroke-width="0.7" fill="none" stroke-opacity="0.6"/>
<path d="M347.6,577.6 L343.2,574.9" stroke="rgb(53,53,53)" stroke-width="0.7" fill="none" stroke-opacity="0.6"/>
<path d="M498.6,462.4 L502.2,469.4 L505.8,476.4 L509.3,483.4 L512.9,490.4 L512.9,490.4 L513.0,490.6 L513.2,490.8 L513.3,491.0 L513.4,491.2 L513.4,491.2 L509.8,484.2 L506.2,477.3 L503.1,471.5 L500.4,469.4 L500.4,469.4 L500.2,467.4 L499.8,465.5 L499.2,463.7 L498.6,462.4Z" fill="rgb(115,115,115)"/>
<path d="M509.9,491.9 L511.2,492.3 L512.3,492.8 L513.3,493.3 L514.2,493.9 L514.2,493.9 L514.5,500.7 L512.4,508.5 L508.2,517.0 L501.7,526.0 L501.7,526.0 L498.6,526.1 L495.4,526.3 L492.0,526.4 L488.5,526.6 L488.5,526.6 L496.9,517.2 L503.4,508.2 L507.8,499.7 L509.9,491.9Z" fill="rgb(65,65,65)"/>
<path d="M511.1,492.8 L509.6,500.1 L505.9,508.2 L500.2,516.9 L492.6,525.8" stroke="rgb(95,95,95)" stroke-width="0.7" fill="none" stroke-opacity="0.6"/>
<path d="M512.3,493.2 L511.4,500.4 L508.2,508.3 L503.0,516.8 L495.9,525.7" stroke="rgb(45,45,45)" stroke-width="0.7" fill="none" stroke-opacity="0.6"/>
<path d="M513.4,493.7 L513.0,500.6 L510.4,508.4 L505.7,516.7 L499.1,525.6" stroke="rgb(95,95,95)" stroke-width="0.7" fill="none" stroke-opacity="0.6"/>
<path d="M448.4,532.7 L463.1,532.5 L476.9,532.1 L489.7,531.6 L501.1,531.1 L501.1,531.1 L498.7,533.9 L496.1,536.6 L493.4,539.4 L490.5,542.2 L490.5,542.2 L477.4,542.7 L463.2,543.0 L448.3,543.0 L432.8,542.5 L432.8,542.5 L436.8,540.1 L440.7,537.7 L444.6,535.2 L448.4,532.7Z" fill="rgb(41,41,41)"/>
<path d="M445.6,535.2 L460.0,535.2 L473.7,534.9 L486.4,534.4 L498.0,533.9" stroke="rgb(63,63,63)" stroke-width="0.7" fill="none" stroke-opacity="0.6"/>
<path d="M441.7,537.7 L456.3,537.8 L470.3,537.6 L483.4,537.2 L495.4,536.7" stroke="rgb(28,28,28)" stroke-width="0.7" fill="none" stroke-opacity="0.6"/>
<path d="M437.8,540.1 L452.6,540.4 L466.8,540.3 L480.2,539.9 L492.6,539.4" stroke="rgb(63,63,63)" stroke-width="0.7" fill="none" stroke-opacity="0.6"/>
<path d="M435.1,565.4 L439.8,565.7 L444.4,565.9 L449.0,566.1 L453.6,566.3 L453.6,566.3 L440.0,574.2 L426.3,581.1 L412.7,587.0 L399.6,591.7 L399.6,591.7 L395.2,590.5 L391.0,589.1 L386.7,587.7 L382.6,586.2 L382.6,586.2 L394.7,582.8 L407.7,578.2 L421.3,572.3 L435.1,565.4Z" fill="rgb(63,63,63)"/>
<path d="M438.9,566.2 L425.6,573.1 L412.3,579.0 L399.5,583.9 L387.5,587.5" stroke="rgb(93,93,93)" stroke-width="0.7" fill="none" stroke-opacity="0.6"/>
<path d="M443.6,566.4 L430.3,573.6 L417.0,579.8 L404.0,585.0 L391.7,588.9" stroke="rgb(44,44,44)" stroke-width="0.7" fill="none" stroke-opacity="0.6"/>
<path d="M448.2,566.6 L434.9,574.0 L421.6,580.5 L408.5,585.9 L396.0,590.2" stroke="rgb(93,93,93)" stroke-width="0.7" fill="none" stroke-opacity="0.6"/>
<path d="M347.4,569.4 L358.1,577.5 L370.2,584.6 L383.5,590.5 L397.8,595.4 L397.8,595.4 L394.2,596.5 L390.6,597.4 L387.2,598.2 L383.9,598.9 L383.9,598.9 L371.1,592.5 L359.4,585.1 L349.2,576.6 L340.5,567.0 L340.5,567.0 L341.9,567.8 L343.5,568.5 L345.4,569.0 L347.4,569.4Z" fill="rgb(44,44,44)"/>
<path d="M346.0,569.6 L356.0,577.7 L367.3,584.9 L379.8,591.0 L393.3,596.2" stroke="rgb(67,67,67)" stroke-width="0.7" fill="none" stroke-opacity="0.6"/>
<path d="M344.1,569.0 L353.6,577.5 L364.5,585.1 L376.6,591.6 L389.8,597.1" stroke="rgb(30,30,30)" stroke-width="0.7" fill="none" stroke-opacity="0.6"/>
<path d="M342.4,568.4 L351.5,577.3 L361.9,585.1 L373.6,592.0 L386.4,597.8" stroke="rgb(67,67,67)" stroke-width="0.7" fill="none" stroke-opacity="0.6"/>
<path d="M347.9,584.1 L350.0,587.2 L352.3,590.2 L354.7,593.1 L357.2,596.0 L357.2,596.0 L352.6,593.2 L351.2,591.3 L351.6,592.0 L351.9,592.7 L351.9,592.7 L350.9,590.7 L349.8,588.6 L348.8,586.6 L347.7,584.5 L347.7,584.5 L347.3,583.8 L347.0,583.1 L346.6,582.3 L347.9,584.1Z" fill="rgb(34,34,34)"/>
<path d="M352.0,590.0 L348.8,586.6" stroke="rgb(53,53,53)" stroke-width="0.7" fill="none" stroke-opacity="0.6"/>
<path d="M354.4,593.0 L350.6,589.9" stroke="rgb(23,23,23)" stroke-width="0.7" fill="none" stroke-opacity="0.6"/>
<path d="M507.4,479.7 L510.5,485.6 L514.1,492.6 L517.7,499.6 L521.3,506.6 L521.3,506.6 L521.4,506.8 L521.5,507.0 L521.6,507.2 L521.7,507.5 L521.7,507.5 L518.1,500.5 L514.5,493.5 L511.9,489.2 L508.6,487.3 L508.6,487.3 L508.6,485.3 L508.4,483.3 L508.0,481.5 L507.4,479.7Z" fill="rgb(115,115,115)"/>
<path d="M508.8,485.4 L511.4,487.5" stroke="rgb(163,163,163)" stroke-width="0.7" fill="none" stroke-opacity="0.6"/>
<path d="M517.7,510.0 L519.2,510.4 L520.6,510.8 L521.7,511.2 L522.8,511.7 L522.8,511.7 L522.4,518.9 L519.7,526.8 L514.8,535.5 L507.8,544.6 L507.8,544.6 L504.6,544.8 L501.2,544.9 L497.7,545.1 L494.1,545.2 L494.1,545.2 L503.0,535.9 L510.1,526.7 L515.0,518.1 L517.7,510.0Z" fill="rgb(69,69,69)"/>
<path d="M519.2,510.8 L517.0,518.4 L512.7,526.7 L506.4,535.5 L498.3,544.5" stroke="rgb(101,101,101)" stroke-width="0.7" fill="none" stroke-opacity="0.6"/>
<path d="M520.5,511.2 L518.9,518.6 L515.2,526.7 L509.4,535.4 L501.7,544.3" stroke="rgb(48,48,48)" stroke-width="0.7" fill="none" stroke-opacity="0.6"/>
<path d="M521.7,511.7 L520.7,518.8 L517.5,526.8 L512.3,535.3 L505.1,544.2" stroke="rgb(101,101,101)" stroke-width="0.7" fill="none" stroke-opacity="0.6"/>
<path d="M453.1,551.1 L468.0,551.1 L482.1,550.8 L495.2,550.3 L507.1,549.8 L507.1,549.8 L504.5,552.5 L501.8,555.3 L498.9,558.1 L495.9,560.8 L495.9,560.8 L482.4,561.3 L468.0,561.5 L452.9,561.3 L437.3,560.7 L437.3,560.7 L441.3,558.4 L445.2,556.0 L449.2,553.6 L453.1,551.1Z" fill="rgb(41,41,41)"/>
<path d="M450.2,553.6 L464.8,553.7 L478.7,553.5 L491.8,553.1 L503.8,552.6" stroke="rgb(63,63,63)" stroke-width="0.7" fill="none" stroke-opacity="0.6"/>
<path d="M446.2,556.1 L461.0,556.3 L475.2,556.2 L488.6,555.8 L501.0,555.3" stroke="rgb(28,28,28)" stroke-width="0.7" fill="none" stroke-opacity="0.6"/>
<path d="M442.3,558.4 L457.2,558.9 L471.7,558.9 L485.4,558.6 L498.1,558.1" stroke="rgb(63,63,63)" stroke-width="0.7" fill="none" stroke-opacity="0.6"/>
<path d="M439.5,583.4 L444.2,583.8 L448.8,584.1 L453.5,584.4 L458.1,584.6 L458.1,584.6 L444.4,592.2 L430.7,598.9 L417.2,604.5 L404.3,608.8 L404.3,608.8 L400.1,607.5 L395.8,606.0 L391.7,604.5 L387.7,602.9 L387.7,602.9 L399.5,599.9 L412.3,595.6 L425.7,590.1 L439.5,583.4Z" fill="rgb(61,61,61)"/>
<path d="M443.3,584.3 L430.0,590.9 L416.8,596.6 L404.2,601.1 L392.4,604.3" stroke="rgb(90,90,90)" stroke-width="0.7" fill="none" stroke-opacity="0.6"/>
<path d="M448.0,584.6 L434.6,591.5 L421.4,597.4 L408.6,602.3 L396.6,605.9" stroke="rgb(42,42,42)" stroke-width="0.7" fill="none" stroke-opacity="0.6"/>
<path d="M452.6,584.9 L439.3,592.0 L426.0,598.2 L413.1,603.3 L400.8,607.3" stroke="rgb(90,90,90)" stroke-width="0.7" fill="none" stroke-opacity="0.6"/>
<path d="M353.7,585.0 L364.0,593.5 L375.7,600.9 L388.6,607.2 L402.6,612.5 L402.6,612.5 L399.1,613.4 L395.6,614.2 L392.3,614.9 L389.2,615.4 L389.2,615.4 L376.7,608.7 L365.4,600.9 L355.7,592.1 L347.5,582.2 L347.5,582.2 L348.8,583.1 L350.2,583.9 L351.9,584.5 L353.7,585.0Z" fill="rgb(44,44,44)"/>
<path d="M352.4,585.1 L362.0,593.6 L372.9,601.1 L385.0,607.6 L398.2,613.1" stroke="rgb(67,67,67)" stroke-width="0.7" fill="none" stroke-opacity="0.6"/>
<path d="M350.8,584.5 L359.8,593.3 L370.3,601.2 L382.0,608.0 L394.8,613.8" stroke="rgb(30,30,30)" stroke-width="0.7" fill="none" stroke-opacity="0.6"/>
<path d="M349.3,583.8 L357.8,592.9 L367.8,601.1 L379.0,608.3 L391.5,614.5" stroke="rgb(67,67,67)" stroke-width="0.7" fill="none" stroke-opacity="0.6"/>
<path d="M355.3,599.1 L357.3,602.3 L359.3,605.4 L361.6,608.4 L363.9,611.4 L363.9,611.4 L360.0,608.2 L359.5,607.5 L359.9,608.3 L360.3,609.0 L360.3,609.0 L359.2,606.9 L358.2,604.9 L357.1,602.8 L356.0,600.8 L356.0,600.8 L355.7,600.0 L355.3,599.3 L354.9,598.6 L355.3,599.1Z" fill="rgb(34,34,34)"/>
<path d="M361.3,608.2 L358.1,604.8" stroke="rgb(53,53,53)" stroke-width="0.7" fill="none" stroke-opacity="0.6"/>
<path d="M516.2,497.4 L518.9,501.9 L522.4,508.9 L526.0,515.8 L529.6,522.8 L529.6,522.8 L529.7,523.0 L529.8,523.3 L530.0,523.5 L530.1,523.7 L530.1,523.7 L526.5,516.7 L522.9,509.7 L520.6,507.0 L516.7,505.4 L516.7,505.4 L516.9,503.3 L516.8,501.2 L516.6,499.3 L516.2,497.4Z" fill="rgb(115,115,115)"/>
<path d="M517.1,501.3 L519.6,503.4" stroke="rgb(163,163,163)" stroke-width="0.7" fill="none" stroke-opacity="0.6"/>
<path d="M517.1,503.4 L520.2,505.2" stroke="rgb(80,80,80)" stroke-width="0.7" fill="none" stroke-opacity="0.6"/>
<path d="M525.4,528.2 L527.1,528.5 L528.6,528.8 L529.9,529.2 L531.1,529.7 L531.1,529.7 L530.1,537.0 L526.8,545.2 L521.3,554.1 L513.7,563.3 L513.7,563.3 L510.4,563.4 L506.9,563.6 L503.3,563.7 L499.5,563.9 L499.5,563.9 L508.9,554.5 L516.5,545.3 L522.1,536.5 L525.4,528.2Z" fill="rgb(71,71,71)"/>
<path d="M527.0,529.0 L524.2,536.8 L519.3,545.2 L512.5,554.1 L503.9,563.1" stroke="rgb(103,103,103)" stroke-width="0.7" fill="none" stroke-opacity="0.6"/>
<path d="M528.5,529.3 L526.3,536.9 L521.9,545.2 L515.6,553.9 L507.5,563.0" stroke="rgb(49,49,49)" stroke-width="0.7" fill="none" stroke-opacity="0.6"/>
<path d="M529.9,529.7 L528.2,537.1 L524.4,545.2 L518.6,553.8 L510.9,562.8" stroke="rgb(103,103,103)" stroke-width="0.7" fill="none" stroke-opacity="0.6"/>
<path d="M457.6,569.5 L472.7,569.6 L487.1,569.4 L500.6,568.9 L512.9,568.4 L512.9,568.4 L510.2,571.2 L507.3,573.9 L504.3,576.7 L501.2,579.5 L501.2,579.5 L487.4,579.9 L472.7,580.0 L457.4,579.7 L441.7,578.8 L441.7,578.8 L445.7,576.6 L449.7,574.3 L453.7,571.9 L457.6,569.5Z" fill="rgb(40,40,40)"/>
<path d="M454.7,572.0 L469.5,572.2 L483.7,572.1 L497.0,571.7 L509.4,571.2" stroke="rgb(62,62,62)" stroke-width="0.7" fill="none" stroke-opacity="0.6"/>
<path d="M450.7,574.3 L465.7,574.8 L480.1,574.8 L493.8,574.5 L506.5,574.0" stroke="rgb(28,28,28)" stroke-width="0.7" fill="none" stroke-opacity="0.6"/>
<path d="M446.7,576.7 L461.8,577.3 L476.4,577.4 L490.4,577.2 L503.5,576.7" stroke="rgb(62,62,62)" stroke-width="0.7" fill="none" stroke-opacity="0.6"/>
<path d="M443.9,601.4 L448.6,601.9 L453.2,602.3 L457.9,602.6 L462.5,602.9 L462.5,602.9 L448.8,610.2 L435.1,616.6 L421.7,621.9 L409.2,625.8 L409.2,625.8 L405.0,624.4 L400.8,622.9 L396.8,621.2 L392.8,619.5 L392.8,619.5 L404.3,616.9 L416.8,613.0 L430.2,607.8 L443.9,601.4Z" fill="rgb(60,60,60)"/>
<path d="M447.7,602.3 L434.4,608.7 L421.3,614.0 L408.9,618.2 L397.5,621.1" stroke="rgb(89,89,89)" stroke-width="0.7" fill="none" stroke-opacity="0.6"/>
<path d="M452.4,602.7 L439.0,609.4 L425.9,615.0 L413.3,619.5 L401.6,622.7" stroke="rgb(42,42,42)" stroke-width="0.7" fill="none" stroke-opacity="0.6"/>
<path d="M457.0,603.1 L443.7,609.9 L430.5,615.8 L417.7,620.6 L405.7,624.2" stroke="rgb(89,89,89)" stroke-width="0.7" fill="none" stroke-opacity="0.6"/>
<path d="M360.2,600.6 L370.0,609.4 L381.3,617.1 L393.8,623.8 L407.5,629.4 L407.5,629.4 L404.1,630.2 L400.7,630.9 L397.6,631.4 L394.5,631.9 L394.5,631.9 L382.4,624.8 L371.6,616.7 L362.4,607.5 L354.7,597.4 L354.7,597.4 L355.8,598.3 L357.1,599.2 L358.5,599.9 L360.2,600.6Z" fill="rgb(44,44,44)"/>
<path d="M359.1,600.6 L368.2,609.4 L378.6,617.2 L390.4,624.0 L403.2,629.8" stroke="rgb(67,67,67)" stroke-width="0.7" fill="none" stroke-opacity="0.6"/>
<path d="M357.6,599.8 L366.1,609.0 L376.1,617.1 L387.4,624.3 L399.9,630.5" stroke="rgb(30,30,30)" stroke-width="0.7" fill="none" stroke-opacity="0.6"/>
<path d="M356.3,599.0 L364.3,608.5 L373.8,617.0 L384.7,624.5 L396.7,631.0" stroke="rgb(67,67,67)" stroke-width="0.7" fill="none" stroke-opacity="0.6"/>
<path d="M362.9,614.1 L364.7,617.3 L366.6,620.5 L368.6,623.6 L370.9,626.6 L370.9,626.6 L367.5,623.1 L367.9,623.8 L368.2,624.5 L368.6,625.2 L368.6,625.2 L367.6,623.2 L366.5,621.1 L365.4,619.0 L364.4,617.0 L364.4,617.0 L364.0,616.3 L363.6,615.5 L363.3,614.8 L362.9,614.1Z" fill="rgb(34,34,34)"/>
<path d="M524.9,515.2 L527.2,518.1 L530.8,525.1 L534.4,532.1 L538.0,539.1 L538.0,539.1 L538.1,539.3 L538.2,539.5 L538.3,539.7 L538.4,539.9 L538.4,539.9 L534.8,532.9 L531.7,527.0 L529.0,524.9 L524.5,523.5 L524.5,523.5 L524.9,521.3 L525.1,519.2 L525.1,517.1 L524.9,515.2Z" fill="rgb(115,115,115)"/>
<path d="M525.3,517.3 L527.8,519.4" stroke="rgb(163,163,163)" stroke-width="0.7" fill="none" stroke-opacity="0.6"/>
<path d="M525.4,519.3 L528.4,521.1" stroke="rgb(80,80,80)" stroke-width="0.7" fill="none" stroke-opacity="0.6"/>
<path d="M525.2,521.4 L528.9,523.0" stroke="rgb(163,163,163)" stroke-width="0.7" fill="none" stroke-opacity="0.6"/>
<path d="M533.0,546.5 L534.8,546.7 L536.4,547.0 L538.0,547.3 L539.3,547.7 L539.3,547.7 L537.6,555.3 L533.7,563.7 L527.6,572.6 L519.5,581.9 L519.5,581.9 L516.0,582.1 L512.4,582.2 L508.7,582.4 L504.9,582.5 L504.9,582.5 L514.7,573.2 L522.8,563.9 L529.0,554.9 L533.0,546.5Z" fill="rgb(73,73,73)"/>
<path d="M534.6,547.2 L531.2,555.2 L525.8,563.8 L518.4,572.7 L509.3,581.8" stroke="rgb(106,106,106)" stroke-width="0.7" fill="none" stroke-opacity="0.6"/>
<path d="M536.3,547.4 L533.5,555.3 L528.5,563.7 L521.7,572.6 L513.0,581.6" stroke="rgb(51,51,51)" stroke-width="0.7" fill="none" stroke-opacity="0.6"/>
<path d="M537.9,547.8 L535.6,555.4 L531.2,563.7 L524.8,572.4 L516.6,581.5" stroke="rgb(106,106,106)" stroke-width="0.7" fill="none" stroke-opacity="0.6"/>
<path d="M462.1,587.8 L477.4,588.1 L492.1,588.0 L505.9,587.6 L518.6,587.1 L518.6,587.1 L515.7,589.8 L512.7,592.6 L509.6,595.4 L506.3,598.1 L506.3,598.1 L492.2,598.4 L477.3,598.4 L461.8,598.0 L446.1,596.9 L446.1,596.9 L450.1,594.7 L454.1,592.5 L458.2,590.2 L462.1,587.8Z" fill="rgb(40,40,40)"/>
<path d="M459.1,590.3 L474.1,590.7 L488.5,590.7 L502.2,590.4 L514.9,589.9" stroke="rgb(62,62,62)" stroke-width="0.7" fill="none" stroke-opacity="0.6"/>
<path d="M455.1,592.6 L470.2,593.2 L484.9,593.3 L498.8,593.1 L511.9,592.6" stroke="rgb(28,28,28)" stroke-width="0.7" fill="none" stroke-opacity="0.6"/>
<path d="M451.1,594.8 L466.3,595.6 L481.1,595.9 L495.3,595.8 L508.8,595.4" stroke="rgb(62,62,62)" stroke-width="0.7" fill="none" stroke-opacity="0.6"/>
<path d="M448.3,619.3 L453.0,619.9 L457.6,620.3 L462.3,620.7 L467.0,621.0 L467.0,621.0 L453.2,628.2 L439.5,634.3 L426.4,639.1 L414.1,642.7 L414.1,642.7 L409.9,641.2 L405.9,639.5 L402.0,637.8 L398.1,636.0 L398.1,636.0 L409.2,633.8 L421.5,630.3 L434.6,625.4 L448.3,619.3Z" fill="rgb(58,58,58)"/>
<path d="M452.1,620.3 L438.8,626.4 L425.9,631.4 L413.8,635.2 L402.6,637.7" stroke="rgb(86,86,86)" stroke-width="0.7" fill="none" stroke-opacity="0.6"/>
<path d="M456.8,620.8 L443.4,627.1 L430.4,632.4 L418.0,636.5 L406.6,639.4" stroke="rgb(40,40,40)" stroke-width="0.7" fill="none" stroke-opacity="0.6"/>
<path d="M461.4,621.2 L448.1,627.8 L435.0,633.4 L422.4,637.8 L410.7,641.0" stroke="rgb(86,86,86)" stroke-width="0.7" fill="none" stroke-opacity="0.6"/>
<path d="M366.9,616.0 L376.2,625.1 L387.0,633.2 L399.2,640.2 L412.5,646.2 L412.5,646.2 L409.2,646.9 L406.0,647.4 L402.9,647.9 L400.0,648.2 L400.0,648.2 L388.3,640.8 L378.0,632.3 L369.2,622.8 L362.1,612.4 L362.1,612.4 L363.0,613.4 L364.1,614.4 L365.4,615.3 L366.9,616.0Z" fill="rgb(44,44,44)"/>
<path d="M365.9,615.9 L374.5,625.0 L384.5,633.2 L395.8,640.3 L408.3,646.5" stroke="rgb(67,67,67)" stroke-width="0.7" fill="none" stroke-opacity="0.6"/>
<path d="M364.6,615.1 L372.6,624.5 L382.2,633.0 L393.0,640.5 L405.1,647.0" stroke="rgb(30,30,30)" stroke-width="0.7" fill="none" stroke-opacity="0.6"/>
<path d="M363.4,614.1 L371.0,623.9 L380.0,632.7 L390.4,640.6 L402.1,647.5" stroke="rgb(67,67,67)" stroke-width="0.7" fill="none" stroke-opacity="0.6"/>
<path d="M371.2,630.3 L372.3,632.4 L374.0,635.5 L375.9,638.7 L377.9,641.8 L377.9,641.8 L375.8,639.3 L376.2,640.0 L376.6,640.7 L377.0,641.5 L377.0,641.5 L375.9,639.4 L374.9,637.3 L373.8,635.3 L372.7,633.2 L372.7,633.2 L372.4,632.5 L372.0,631.8 L371.6,631.0 L371.2,630.3Z" fill="rgb(34,34,34)"/>
<path d="M533.3,533.1 L535.9,535.2 L539.1,541.3 L542.7,548.3 L546.3,555.3 L546.3,555.3 L546.4,555.5 L546.5,555.7 L546.6,555.9 L546.8,556.2 L546.8,556.2 L543.2,549.2 L540.5,544.7 L537.3,542.8 L532.2,541.7 L532.2,541.7 L532.8,539.4 L533.2,537.2 L533.3,535.1 L533.3,533.1Z" fill="rgb(115,115,115)"/>
<path d="M533.6,535.2 L536.7,537.1" stroke="rgb(163,163,163)" stroke-width="0.7" fill="none" stroke-opacity="0.6"/>
<path d="M533.5,537.3 L537.1,538.9" stroke="rgb(80,80,80)" stroke-width="0.7" fill="none" stroke-opacity="0.6"/>
<path d="M533.1,539.5 L537.3,540.9 L539.9,542.9" stroke="rgb(163,163,163)" stroke-width="0.7" fill="none" stroke-opacity="0.6"/>
<path d="M540.3,564.8 L542.3,565.0 L544.1,565.2 L545.8,565.4 L547.3,565.7 L547.3,565.7 L545.0,573.6 L540.5,582.2 L533.8,591.2 L525.2,600.6 L525.2,600.6 L521.6,600.7 L517.8,600.9 L514.0,601.0 L510.1,601.2 L510.1,601.2 L520.4,591.8 L529.0,582.5 L535.7,573.4 L540.3,564.8Z" fill="rgb(76,76,76)"/>
<path d="M542.1,565.5 L538.1,573.7 L532.1,582.4 L524.2,591.4 L514.7,600.4" stroke="rgb(110,110,110)" stroke-width="0.7" fill="none" stroke-opacity="0.6"/>
<path d="M544.0,565.7 L540.5,573.7 L535.0,582.3 L527.6,591.2 L518.5,600.3" stroke="rgb(53,53,53)" stroke-width="0.7" fill="none" stroke-opacity="0.6"/>
<path d="M545.7,565.9 L542.8,573.7 L537.8,582.2 L530.9,591.1 L522.2,600.1" stroke="rgb(110,110,110)" stroke-width="0.7" fill="none" stroke-opacity="0.6"/>
<path d="M466.6,606.1 L482.1,606.6 L496.9,606.6 L511.0,606.2 L524.1,605.7 L524.1,605.7 L521.1,608.5 L518.0,611.3 L514.8,614.0 L511.4,616.7 L511.4,616.7 L497.0,617.0 L481.9,616.8 L466.3,616.2 L450.4,614.9 L450.4,614.9 L454.5,612.8 L458.6,610.7 L462.6,608.4 L466.6,606.1Z" fill="rgb(39,39,39)"/>
<path d="M463.6,608.5 L478.7,609.1 L493.3,609.2 L507.2,609.0 L520.3,608.5" stroke="rgb(60,60,60)" stroke-width="0.7" fill="none" stroke-opacity="0.6"/>
<path d="M459.6,610.7 L474.8,611.5 L489.6,611.8 L503.8,611.7 L517.2,611.3" stroke="rgb(27,27,27)" stroke-width="0.7" fill="none" stroke-opacity="0.6"/>
<path d="M455.5,612.9 L470.8,613.9 L485.8,614.3 L500.2,614.3 L513.9,614.0" stroke="rgb(60,60,60)" stroke-width="0.7" fill="none" stroke-opacity="0.6"/>
<path d="M452.7,637.2 L457.3,637.8 L462.0,638.3 L466.7,638.8 L471.4,639.2 L471.4,639.2 L457.6,646.0 L444.0,651.8 L431.1,656.3 L419.1,659.5 L419.1,659.5 L415.0,657.9 L411.1,656.1 L407.3,654.3 L403.5,652.4 L403.5,652.4 L414.2,650.6 L426.2,647.4 L439.1,642.9 L452.7,637.2Z" fill="rgb(56,56,56)"/>
<path d="M456.5,638.2 L443.3,644.0 L430.6,648.6 L418.7,652.1 L407.9,654.2" stroke="rgb(83,83,83)" stroke-width="0.7" fill="none" stroke-opacity="0.6"/>
<path d="M461.2,638.7 L447.9,644.8 L435.0,649.8 L422.9,653.5 L411.8,656.0" stroke="rgb(39,39,39)" stroke-width="0.7" fill="none" stroke-opacity="0.6"/>
<path d="M465.8,639.2 L452.5,645.5 L439.5,650.8 L427.1,654.9 L415.7,657.7" stroke="rgb(83,83,83)" stroke-width="0.7" fill="none" stroke-opacity="0.6"/>
<path d="M373.7,631.3 L382.5,640.8 L392.9,649.2 L404.6,656.6 L417.6,662.9 L417.6,662.9 L414.4,663.4 L411.3,663.9 L408.3,664.2 L405.5,664.4 L405.5,664.4 L394.3,656.7 L384.5,647.9 L376.2,638.0 L369.7,627.4 L369.7,627.4 L370.4,628.4 L371.3,629.5 L372.4,630.5 L373.7,631.3Z" fill="rgb(45,45,45)"/>
<path d="M372.9,631.1 L381.0,640.6 L390.5,649.1 L401.4,656.6 L413.5,663.0" stroke="rgb(68,68,68)" stroke-width="0.7" fill="none" stroke-opacity="0.6"/>
<path d="M371.7,630.2 L379.3,640.0 L388.3,648.8 L398.8,656.6 L410.5,663.5" stroke="rgb(31,31,31)" stroke-width="0.7" fill="none" stroke-opacity="0.6"/>
<path d="M370.8,629.1 L377.8,639.2 L386.3,648.4 L396.3,656.6 L407.6,663.8" stroke="rgb(68,68,68)" stroke-width="0.7" fill="none" stroke-opacity="0.6"/>
<path d="M379.6,646.5 L380.6,648.6 L381.7,650.7 L383.3,653.7 L385.2,656.9 L385.2,656.9 L384.2,655.5 L384.6,656.2 L384.9,657.0 L385.3,657.7 L385.3,657.7 L384.3,655.6 L383.2,653.6 L382.1,651.5 L381.1,649.5 L381.1,649.5 L380.7,648.7 L380.3,648.0 L380.0,647.3 L379.6,646.5Z" fill="rgb(34,34,34)"/>
<path d="M541.6,551.0 L544.8,552.9 L547.5,557.6 L551.1,564.6 L554.7,571.5 L554.7,571.5 L554.8,571.7 L554.9,572.0 L555.0,572.2 L555.1,572.4 L555.1,572.4 L551.5,565.4 L549.2,562.5 L545.3,560.9 L539.7,560.0 L539.7,560.0 L540.5,557.6 L541.1,555.3 L541.4,553.2 L541.6,551.0Z" fill="rgb(113,113,113)"/>
<path d="M541.7,553.2 L545.3,554.8" stroke="rgb(160,160,160)" stroke-width="0.7" fill="none" stroke-opacity="0.6"/>
<path d="M541.4,555.4 L545.6,556.8 L548.1,558.9" stroke="rgb(79,79,79)" stroke-width="0.7" fill="none" stroke-opacity="0.6"/>
<path d="M540.9,557.7 L545.6,558.8 L548.7,560.6" stroke="rgb(160,160,160)" stroke-width="0.7" fill="none" stroke-opacity="0.6"/>
<path d="M547.5,583.2 L549.6,583.3 L551.6,583.4 L553.5,583.6 L555.1,583.9 L555.1,583.9 L552.2,592.0 L547.0,600.7 L539.8,609.9 L530.7,619.2 L530.7,619.2 L527.0,619.4 L523.1,619.5 L519.2,619.7 L515.2,619.8 L515.2,619.8 L525.9,610.5 L535.0,601.1 L542.3,591.9 L547.5,583.2Z" fill="rgb(78,78,78)"/>
<path d="M549.4,583.8 L544.8,592.2 L538.2,601.0 L529.8,610.0 L519.9,619.1" stroke="rgb(113,113,113)" stroke-width="0.7" fill="none" stroke-opacity="0.6"/>
<path d="M551.4,583.9 L547.4,592.1 L541.3,600.8 L533.4,609.9 L523.8,618.9" stroke="rgb(54,54,54)" stroke-width="0.7" fill="none" stroke-opacity="0.6"/>
<path d="M553.3,584.1 L549.8,592.2 L544.2,600.8 L536.8,609.7 L527.6,618.8" stroke="rgb(113,113,113)" stroke-width="0.7" fill="none" stroke-opacity="0.6"/>
<path d="M471.0,624.3 L486.6,625.0 L501.7,625.1 L516.1,624.8 L529.5,624.4 L529.5,624.4 L526.4,627.1 L523.2,629.9 L519.8,632.6 L516.3,635.3 L516.3,635.3 L501.7,635.4 L486.4,635.2 L470.7,634.3 L454.8,632.8 L454.8,632.8 L458.9,630.8 L463.0,628.7 L467.0,626.6 L471.0,624.3Z" fill="rgb(39,39,39)"/>
<path d="M468.0,626.6 L483.2,627.4 L498.0,627.7 L512.2,627.6 L525.6,627.2" stroke="rgb(60,60,60)" stroke-width="0.7" fill="none" stroke-opacity="0.6"/>
<path d="M464.0,628.8 L479.2,629.8 L494.2,630.2 L508.6,630.2 L522.3,629.9" stroke="rgb(27,27,27)" stroke-width="0.7" fill="none" stroke-opacity="0.6"/>
<path d="M459.9,630.9 L475.2,632.1 L490.3,632.7 L505.0,632.9 L518.9,632.6" stroke="rgb(60,60,60)" stroke-width="0.7" fill="none" stroke-opacity="0.6"/>
<path d="M457.1,654.9 L461.7,655.6 L466.4,656.2 L471.1,656.7 L475.8,657.2 L475.8,657.2 L462.0,663.8 L448.6,669.2 L435.8,673.4 L424.2,676.2 L424.2,676.2 L420.2,674.5 L416.4,672.6 L412.7,670.7 L409.0,668.7 L409.0,668.7 L419.3,667.3 L431.0,664.5 L443.7,660.3 L457.1,654.9Z" fill="rgb(54,54,54)"/>
<path d="M460.9,656.0 L447.8,661.5 L435.3,665.8 L423.7,668.9 L413.3,670.6" stroke="rgb(80,80,80)" stroke-width="0.7" fill="none" stroke-opacity="0.6"/>
<path d="M465.5,656.6 L452.3,662.4 L439.7,667.0 L427.8,670.4 L417.1,672.5" stroke="rgb(37,37,37)" stroke-width="0.7" fill="none" stroke-opacity="0.6"/>
<path d="M470.2,657.2 L456.9,663.2 L444.1,668.2 L432.0,671.9 L420.9,674.3" stroke="rgb(80,80,80)" stroke-width="0.7" fill="none" stroke-opacity="0.6"/>
<path d="M380.7,646.6 L389.0,656.3 L398.9,665.1 L410.2,672.8 L422.8,679.4 L422.8,679.4 L419.7,679.9 L416.7,680.2 L413.9,680.4 L411.3,680.5 L411.3,680.5 L400.5,672.4 L391.1,663.3 L383.4,653.2 L378.1,643.6 L378.1,643.6 L378.0,643.4 L378.7,644.5 L379.6,645.6 L380.7,646.6Z" fill="rgb(45,45,45)"/>
<path d="M380.0,646.3 L387.6,656.0 L396.7,664.8 L407.1,672.7 L418.9,679.5" stroke="rgb(68,68,68)" stroke-width="0.7" fill="none" stroke-opacity="0.6"/>
<path d="M379.1,645.2 L386.1,655.3 L394.7,664.4 L404.6,672.6 L416.0,679.8" stroke="rgb(31,31,31)" stroke-width="0.7" fill="none" stroke-opacity="0.6"/>
<path d="M378.3,644.1 L384.8,654.5 L392.8,663.9 L402.3,672.4 L413.2,680.0" stroke="rgb(68,68,68)" stroke-width="0.7" fill="none" stroke-opacity="0.6"/>
<path d="M387.9,662.8 L389.0,664.8 L390.0,666.9 L391.1,668.9 L392.6,671.9 L392.6,671.9 L392.5,671.7 L392.9,672.5 L393.3,673.2 L393.7,673.9 L393.7,673.9 L392.6,671.9 L391.5,669.8 L390.5,667.8 L389.4,665.7 L389.4,665.7 L389.0,665.0 L388.7,664.2 L388.3,663.5 L387.9,662.8Z" fill="rgb(34,34,34)"/>
<path d="M549.7,569.1 L553.5,570.7 L555.8,573.8 L559.4,580.8 L563.0,587.8 L563.0,587.8 L563.1,588.0 L563.2,588.2 L563.3,588.4 L563.4,588.6 L563.4,588.6 L560.3,582.5 L557.6,580.4 L553.2,579.0 L547.1,578.3 L547.1,578.3 L548.0,575.9 L548.8,573.5 L549.3,571.3 L549.7,569.1Z" fill="rgb(111,111,111)"/>
<path d="M549.7,571.3 L553.8,572.7 L556.3,574.8" stroke="rgb(157,157,157)" stroke-width="0.7" fill="none" stroke-opacity="0.6"/>
<path d="M549.1,573.6 L553.9,574.7 L556.9,576.6" stroke="rgb(77,77,77)" stroke-width="0.7" fill="none" stroke-opacity="0.6"/>
<path d="M548.4,575.9 L553.7,576.9 L557.4,578.4" stroke="rgb(157,157,157)" stroke-width="0.7" fill="none" stroke-opacity="0.6"/>
<path d="M554.5,601.6 L556.8,601.7 L558.9,601.8 L560.9,601.9 L562.8,602.1 L562.8,602.1 L559.2,610.4 L553.5,619.3 L545.7,628.5 L536.1,637.9 L536.1,637.9 L532.3,638.0 L528.3,638.2 L524.3,638.3 L520.2,638.4 L520.2,638.4 L531.3,629.1 L540.9,619.7 L548.7,610.5 L554.5,601.6Z" fill="rgb(80,80,80)"/>
<path d="M556.5,602.2 L551.3,610.7 L544.2,619.6 L535.4,628.7 L525.0,637.7" stroke="rgb(116,116,116)" stroke-width="0.7" fill="none" stroke-opacity="0.6"/>
<path d="M558.7,602.3 L554.0,610.6 L547.4,619.5 L539.0,628.5 L529.0,637.6" stroke="rgb(56,56,56)" stroke-width="0.7" fill="none" stroke-opacity="0.6"/>
<path d="M560.7,602.4 L556.6,610.6 L550.5,619.3 L542.5,628.4 L532.9,637.4" stroke="rgb(116,116,116)" stroke-width="0.7" fill="none" stroke-opacity="0.6"/>
<path d="M475.5,642.5 L491.1,643.3 L506.4,643.6 L521.1,643.4 L534.8,643.0 L534.8,643.0 L531.6,645.8 L528.2,648.5 L524.8,651.2 L521.2,653.9 L521.2,653.9 L506.3,653.9 L490.9,653.4 L475.1,652.4 L459.2,650.6 L459.2,650.6 L463.3,648.7 L467.3,646.7 L471.4,644.7 L475.5,642.5Z" fill="rgb(39,39,39)"/>
<path d="M472.4,644.7 L487.7,645.7 L502.6,646.1 L517.0,646.1 L530.7,645.8" stroke="rgb(60,60,60)" stroke-width="0.7" fill="none" stroke-opacity="0.6"/>
<path d="M468.3,646.8 L483.7,648.0 L498.8,648.6 L513.4,648.8 L527.3,648.5" stroke="rgb(27,27,27)" stroke-width="0.7" fill="none" stroke-opacity="0.6"/>
<path d="M464.3,648.8 L479.6,650.3 L494.8,651.1 L509.6,651.3 L523.9,651.2" stroke="rgb(60,60,60)" stroke-width="0.7" fill="none" stroke-opacity="0.6"/>
<path d="M461.5,672.6 L466.2,673.4 L470.8,674.0 L475.5,674.6 L480.1,675.2 L480.1,675.2 L466.4,681.4 L453.2,686.5 L440.7,690.3 L429.4,692.8 L429.4,692.8 L425.5,690.9 L421.8,689.0 L418.2,686.9 L414.7,684.8 L414.7,684.8 L424.5,683.8 L435.8,681.4 L448.3,677.7 L461.5,672.6Z" fill="rgb(52,52,52)"/>
<path d="M465.3,673.7 L452.3,678.9 L440.1,682.8 L428.8,685.5 L418.8,686.9" stroke="rgb(78,78,78)" stroke-width="0.7" fill="none" stroke-opacity="0.6"/>
<path d="M469.9,674.4 L456.9,679.9 L444.4,684.2 L432.8,687.2 L422.4,688.9" stroke="rgb(36,36,36)" stroke-width="0.7" fill="none" stroke-opacity="0.6"/>
<path d="M474.6,675.1 L461.4,680.8 L448.7,685.4 L436.9,688.8 L426.2,690.8" stroke="rgb(78,78,78)" stroke-width="0.7" fill="none" stroke-opacity="0.6"/>
<path d="M387.9,661.7 L395.6,671.8 L405.0,680.9 L415.9,688.9 L428.1,695.9 L428.1,695.9 L425.1,696.2 L422.3,696.5 L419.6,696.5 L417.1,696.5 L417.1,696.5 L406.8,688.1 L398.0,678.6 L390.8,668.2 L386.4,659.9 L386.4,659.9 L386.3,659.6 L386.2,659.5 L386.9,660.6 L387.9,661.7Z" fill="rgb(45,45,45)"/>
<path d="M387.4,661.3 L394.4,671.4 L403.0,680.5 L413.0,688.7 L424.3,695.8" stroke="rgb(68,68,68)" stroke-width="0.7" fill="none" stroke-opacity="0.6"/>
<path d="M386.6,660.2 L393.1,670.5 L401.1,680.0 L410.7,688.5 L421.6,696.0" stroke="rgb(31,31,31)" stroke-width="0.7" fill="none" stroke-opacity="0.6"/>
<path d="M392.0,669.6 L399.5,679.4 L408.5,688.2 L418.9,696.1" stroke="rgb(68,68,68)" stroke-width="0.7" fill="none" stroke-opacity="0.6"/>
<path d="M557.6,587.2 L561.9,588.6 L564.5,590.8 L567.8,597.0 L571.3,604.0 L571.3,604.0 L571.5,604.2 L571.6,604.4 L571.7,604.6 L571.8,604.9 L571.8,604.9 L569.1,600.2 L565.9,598.4 L560.9,597.2 L554.2,596.7 L554.2,596.7 L555.4,594.2 L556.3,591.8 L557.1,589.4 L557.6,587.2Z" fill="rgb(108,108,108)"/>
<path d="M557.4,589.5 L562.1,590.7 L565.2,592.5" stroke="rgb(153,153,153)" stroke-width="0.7" fill="none" stroke-opacity="0.6"/>
<path d="M556.7,591.8 L562.0,592.8 L565.6,594.4" stroke="rgb(75,75,75)" stroke-width="0.7" fill="none" stroke-opacity="0.6"/>
<path d="M555.8,594.2 L561.6,595.0 L565.9,596.3 L568.4,598.4" stroke="rgb(153,153,153)" stroke-width="0.7" fill="none" stroke-opacity="0.6"/>
<path d="M561.3,620.1 L563.8,620.1 L566.1,620.1 L568.2,620.2 L570.3,620.4 L570.3,620.4 L566.1,628.8 L559.7,637.8 L551.4,647.2 L541.4,656.5 L541.4,656.5 L537.5,656.7 L533.4,656.8 L529.3,656.9 L525.1,657.0 L525.1,657.0 L536.6,647.8 L546.6,638.4 L554.9,629.1 L561.3,620.1Z" fill="rgb(82,82,82)"/>
<path d="M563.5,620.6 L557.7,629.3 L550.1,638.2 L540.8,647.3 L530.0,656.3" stroke="rgb(118,118,118)" stroke-width="0.7" fill="none" stroke-opacity="0.6"/>
<path d="M565.8,620.7 L560.6,629.2 L553.4,638.1 L544.5,647.2 L534.1,656.2" stroke="rgb(57,57,57)" stroke-width="0.7" fill="none" stroke-opacity="0.6"/>
<path d="M568.0,620.8 L563.3,629.1 L556.6,638.0 L548.2,647.0 L538.2,656.1" stroke="rgb(118,118,118)" stroke-width="0.7" fill="none" stroke-opacity="0.6"/>
<path d="M479.8,660.6 L495.6,661.6 L511.1,662.0 L525.9,662.0 L540.0,661.7 L540.0,661.7 L536.6,664.4 L533.2,667.1 L529.6,669.8 L526.0,672.4 L526.0,672.4 L510.9,672.3 L495.3,671.7 L479.5,670.4 L463.6,668.4 L463.6,668.4 L467.7,666.6 L471.7,664.7 L475.8,662.7 L479.8,660.6Z" fill="rgb(38,38,38)"/>
<path d="M476.8,662.8 L492.1,663.9 L507.2,664.5 L521.8,664.7 L535.8,664.4" stroke="rgb(59,59,59)" stroke-width="0.7" fill="none" stroke-opacity="0.6"/>
<path d="M472.7,664.8 L488.1,666.2 L503.3,667.0 L518.1,667.2 L532.3,667.1" stroke="rgb(26,26,26)" stroke-width="0.7" fill="none" stroke-opacity="0.6"/>
<path d="M468.7,666.7 L484.0,668.4 L499.3,669.4 L514.3,669.8 L528.7,669.8" stroke="rgb(59,59,59)" stroke-width="0.7" fill="none" stroke-opacity="0.6"/>
<path d="M466.0,690.2 L470.6,691.0 L475.2,691.8 L479.9,692.5 L484.5,693.1 L484.5,693.1 L470.9,699.0 L457.8,703.8 L445.6,707.2 L434.7,709.2 L434.7,709.2 L431.0,707.3 L427.4,705.2 L423.9,703.1 L420.5,700.9 L420.5,700.9 L429.8,700.3 L440.8,698.3 L452.9,694.9 L466.0,690.2Z" fill="rgb(50,50,50)"/>
<path d="M469.7,691.4 L456.9,696.2 L444.9,699.8 L434.0,702.1 L424.4,703.1" stroke="rgb(75,75,75)" stroke-width="0.7" fill="none" stroke-opacity="0.6"/>
<path d="M474.4,692.1 L461.4,697.3 L449.2,701.2 L437.9,703.9 L428.0,705.2" stroke="rgb(35,35,35)" stroke-width="0.7" fill="none" stroke-opacity="0.6"/>
<path d="M479.0,692.8 L465.9,698.3 L453.5,702.5 L441.9,705.5 L431.6,707.2" stroke="rgb(75,75,75)" stroke-width="0.7" fill="none" stroke-opacity="0.6"/>
<path d="M395.2,676.7 L402.5,687.1 L411.3,696.5 L421.7,704.9 L433.5,712.3 L433.5,712.3 L430.7,712.5 L428.0,712.6 L425.5,712.5 L423.1,712.4 L423.1,712.4 L413.3,703.6 L405.0,693.8 L398.4,683.1 L394.8,676.1 L394.8,676.1 L394.7,675.9 L394.5,675.7 L394.5,675.5 L395.2,676.7Z" fill="rgb(45,45,45)"/>
<path d="M394.9,676.3 L401.4,686.6 L409.5,696.0 L419.0,704.5 L429.9,712.0" stroke="rgb(68,68,68)" stroke-width="0.7" fill="none" stroke-opacity="0.6"/>
<path d="M400.2,685.7 L407.8,695.4 L416.8,704.3 L427.3,712.1" stroke="rgb(31,31,31)" stroke-width="0.7" fill="none" stroke-opacity="0.6"/>
<path d="M399.3,684.6 L406.3,694.7 L414.8,703.9 L424.8,712.0" stroke="rgb(68,68,68)" stroke-width="0.7" fill="none" stroke-opacity="0.6"/>
<path d="M565.3,605.4 L570.2,606.5 L573.4,608.5 L576.1,613.3 L579.7,620.2 L579.7,620.2 L579.8,620.5 L579.9,620.7 L580.0,620.9 L580.1,621.1 L580.1,621.1 L577.8,618.0 L574.0,616.4 L568.5,615.4 L561.2,615.1 L561.2,615.1 L562.5,612.6 L563.7,610.1 L564.6,607.7 L565.3,605.4Z" fill="rgb(106,106,106)"/>
<path d="M565.0,607.7 L570.2,608.7 L573.8,610.3" stroke="rgb(151,151,151)" stroke-width="0.7" fill="none" stroke-opacity="0.6"/>
<path d="M564.1,610.1 L569.9,610.9 L574.1,612.2 L576.6,614.3" stroke="rgb(74,74,74)" stroke-width="0.7" fill="none" stroke-opacity="0.6"/>
<path d="M563.0,612.6 L569.4,613.1 L574.1,614.3 L577.2,616.1" stroke="rgb(151,151,151)" stroke-width="0.7" fill="none" stroke-opacity="0.6"/>
<path d="M568.0,638.6 L570.6,638.5 L573.0,638.6 L575.4,638.6 L577.5,638.7 L577.5,638.7 L572.7,647.3 L565.8,656.5 L557.0,665.8 L546.6,675.2 L546.6,675.2 L542.5,675.3 L538.4,675.4 L534.2,675.5 L529.9,675.5 L529.9,675.5 L541.7,666.4 L552.2,657.0 L561.0,647.7 L568.0,638.6Z" fill="rgb(83,83,83)"/>
<path d="M570.2,639.1 L563.9,647.9 L555.8,656.9 L546.0,666.0 L534.9,674.9" stroke="rgb(120,120,120)" stroke-width="0.7" fill="none" stroke-opacity="0.6"/>
<path d="M572.7,639.1 L566.9,647.8 L559.2,656.7 L549.9,665.8 L539.1,674.8" stroke="rgb(58,58,58)" stroke-width="0.7" fill="none" stroke-opacity="0.6"/>
<path d="M575.1,639.1 L569.8,647.7 L562.6,656.6 L553.7,665.7 L543.2,674.7" stroke="rgb(120,120,120)" stroke-width="0.7" fill="none" stroke-opacity="0.6"/>
<path d="M484.2,678.6 L500.1,679.8 L515.6,680.4 L530.7,680.5 L545.1,680.3 L545.1,680.3 L541.6,683.0 L538.1,685.7 L534.4,688.3 L530.7,690.9 L530.7,690.9 L515.4,690.6 L499.7,689.8 L483.8,688.3 L468.1,686.0 L468.1,686.0 L472.1,684.3 L476.1,682.5 L480.2,680.6 L484.2,678.6Z" fill="rgb(38,38,38)"/>
<path d="M481.2,680.7 L496.5,682.1 L511.7,682.9 L526.5,683.1 L540.7,683.0" stroke="rgb(59,59,59)" stroke-width="0.7" fill="none" stroke-opacity="0.6"/>
<path d="M477.1,682.6 L492.5,684.3 L507.8,685.3 L522.7,685.7 L537.1,685.7" stroke="rgb(26,26,26)" stroke-width="0.7" fill="none" stroke-opacity="0.6"/>
<path d="M473.1,684.5 L488.4,686.4 L503.7,687.6 L518.8,688.2 L533.5,688.3" stroke="rgb(59,59,59)" stroke-width="0.7" fill="none" stroke-opacity="0.6"/>
<path d="M470.5,707.6 L475.1,708.6 L479.7,709.4 L484.3,710.2 L488.9,710.9 L488.9,710.9 L475.4,716.5 L462.6,720.9 L450.7,723.9 L440.1,725.6 L440.1,725.6 L436.5,723.5 L433.1,721.4 L429.7,719.1 L426.4,716.8 L426.4,716.8 L435.3,716.6 L445.8,715.0 L457.7,712.0 L470.5,707.6Z" fill="rgb(48,48,48)"/>
<path d="M474.2,708.9 L461.6,713.4 L449.9,716.6 L439.3,718.6 L430.2,719.1" stroke="rgb(72,72,72)" stroke-width="0.7" fill="none" stroke-opacity="0.6"/>
<path d="M478.8,709.8 L466.0,714.6 L454.0,718.1 L443.1,720.4 L433.6,721.4" stroke="rgb(33,33,33)" stroke-width="0.7" fill="none" stroke-opacity="0.6"/>
<path d="M483.4,710.6 L470.5,715.7 L458.3,719.6 L447.0,722.2 L437.1,723.5" stroke="rgb(72,72,72)" stroke-width="0.7" fill="none" stroke-opacity="0.6"/>
<path d="M402.8,691.6 L409.4,702.4 L417.8,712.1 L427.7,720.8 L439.1,728.5 L439.1,728.5 L436.4,728.6 L433.9,728.6 L431.5,728.4 L429.3,728.2 L429.3,728.2 L419.9,719.1 L412.2,709.0 L406.7,699.3 L403.1,692.3 L403.1,692.3 L403.0,692.1 L402.9,691.9 L402.8,691.7 L402.8,691.6Z" fill="rgb(45,45,45)"/>
<path d="M408.5,701.7 L416.1,711.5 L425.2,720.3 L435.7,728.1" stroke="rgb(68,68,68)" stroke-width="0.7" fill="none" stroke-opacity="0.6"/>
<path d="M407.6,700.7 L414.6,710.8 L423.2,719.9 L433.2,728.1" stroke="rgb(31,31,31)" stroke-width="0.7" fill="none" stroke-opacity="0.6"/>
<path d="M406.8,699.5 L413.3,709.9 L421.3,719.4 L430.8,727.9" stroke="rgb(68,68,68)" stroke-width="0.7" fill="none" stroke-opacity="0.6"/>
<path d="M572.9,623.6 L578.3,624.6 L582.0,626.2 L584.4,629.5 L588.0,636.5 L588.0,636.5 L588.1,636.7 L588.3,636.9 L588.4,637.1 L588.8,638.1 L588.8,638.1 L586.2,635.9 L581.9,634.5 L575.8,633.8 L568.0,633.6 L568.0,633.6 L569.5,631.0 L570.8,628.5 L572.0,626.0 L572.9,623.6Z" fill="rgb(103,103,103)"/>
<path d="M572.4,626.0 L578.2,626.8 L582.3,628.2 L584.8,630.3" stroke="rgb(147,147,147)" stroke-width="0.7" fill="none" stroke-opacity="0.6"/>
<path d="M571.3,628.5 L577.7,629.0 L582.4,630.2 L585.5,632.0" stroke="rgb(72,72,72)" stroke-width="0.7" fill="none" stroke-opacity="0.6"/>
<path d="M570.0,631.0 L576.9,631.4 L582.2,632.3 L585.9,633.9" stroke="rgb(147,147,147)" stroke-width="0.7" fill="none" stroke-opacity="0.6"/>
<path d="M574.5,657.1 L577.2,657.1 L579.8,657.0 L582.3,657.0 L584.7,657.1 L584.7,657.1 L579.2,665.9 L571.8,675.1 L562.5,684.5 L551.6,693.8 L551.6,693.8 L547.5,693.9 L543.3,694.0 L539.0,694.0 L534.6,694.1 L534.6,694.1 L546.8,685.0 L557.7,675.7 L567.0,666.3 L574.5,657.1Z" fill="rgb(83,83,83)"/>
<path d="M576.9,657.6 L570.0,666.5 L561.4,675.5 L551.2,684.6 L539.8,693.5" stroke="rgb(120,120,120)" stroke-width="0.7" fill="none" stroke-opacity="0.6"/>
<path d="M579.5,657.6 L573.1,666.4 L564.9,675.4 L555.2,684.5 L544.0,693.4" stroke="rgb(58,58,58)" stroke-width="0.7" fill="none" stroke-opacity="0.6"/>
<path d="M582.0,657.6 L576.1,666.3 L568.4,675.2 L559.0,684.3 L548.2,693.3" stroke="rgb(120,120,120)" stroke-width="0.7" fill="none" stroke-opacity="0.6"/>
<path d="M488.6,696.5 L504.5,698.0 L520.2,698.8 L535.4,699.0 L550.0,698.9 L550.0,698.9 L546.5,701.6 L542.8,704.2 L539.1,706.8 L535.3,709.4 L535.3,709.4 L519.9,708.9 L504.1,707.9 L488.2,706.2 L472.5,703.6 L472.5,703.6 L476.5,702.0 L480.5,700.2 L484.6,698.4 L488.6,696.5Z" fill="rgb(38,38,38)"/>
<path d="M485.6,698.6 L500.9,700.2 L516.2,701.2 L531.1,701.6 L545.6,701.6" stroke="rgb(59,59,59)" stroke-width="0.7" fill="none" stroke-opacity="0.6"/>
<path d="M481.5,700.4 L496.9,702.3 L512.2,703.5 L527.3,704.1 L541.9,704.2" stroke="rgb(26,26,26)" stroke-width="0.7" fill="none" stroke-opacity="0.6"/>
<path d="M477.5,702.1 L492.8,704.3 L508.2,705.7 L523.4,706.5 L538.2,706.8" stroke="rgb(59,59,59)" stroke-width="0.7" fill="none" stroke-opacity="0.6"/>
<path d="M475.1,725.0 L479.6,726.0 L484.1,727.0 L488.7,727.8 L493.4,728.6 L493.4,728.6 L480.0,733.9 L467.4,737.9 L455.8,740.6 L445.7,741.8 L445.7,741.8 L442.2,739.7 L438.9,737.4 L435.6,735.1 L432.5,732.6 L432.5,732.6 L440.9,732.9 L451.0,731.6 L462.5,729.0 L475.1,725.0Z" fill="rgb(46,46,46)"/>
<path d="M478.8,726.3 L466.4,730.5 L454.9,733.3 L444.8,734.9 L436.1,735.1" stroke="rgb(70,70,70)" stroke-width="0.7" fill="none" stroke-opacity="0.6"/>
<path d="M483.3,727.3 L470.7,731.8 L459.0,735.0 L448.5,736.9 L439.4,737.4" stroke="rgb(32,32,32)" stroke-width="0.7" fill="none" stroke-opacity="0.6"/>
<path d="M487.9,728.2 L475.1,732.9 L463.1,736.5 L452.3,738.7 L442.8,739.6" stroke="rgb(70,70,70)" stroke-width="0.7" fill="none" stroke-opacity="0.6"/>
<path d="M411.0,707.7 L416.6,717.5 L424.4,727.6 L433.9,736.6 L444.8,744.6 L444.8,744.6 L442.2,744.6 L439.9,744.5 L437.6,744.2 L435.6,743.8 L435.6,743.8 L426.8,734.4 L419.5,724.0 L415.0,715.5 L411.5,708.6 L411.5,708.6 L411.3,708.4 L411.2,708.1 L411.1,707.9 L411.0,707.7Z" fill="rgb(45,45,45)"/>
<path d="M415.9,716.8 L422.9,726.8 L431.5,736.0 L441.5,744.1" stroke="rgb(68,68,68)" stroke-width="0.7" fill="none" stroke-opacity="0.6"/>
<path d="M415.1,715.6 L421.6,726.0 L429.7,735.5 L439.2,744.0" stroke="rgb(31,31,31)" stroke-width="0.7" fill="none" stroke-opacity="0.6"/>
<path d="M420.5,725.1 L428.0,734.8 L437.0,743.7" stroke="rgb(68,68,68)" stroke-width="0.7" fill="none" stroke-opacity="0.6"/>
<path d="M580.3,641.9 L586.3,642.7 L590.5,644.1 L593.1,646.3 L596.4,652.7 L596.4,652.7 L596.5,652.9 L596.6,653.1 L597.0,654.0 L597.7,655.8 L597.7,655.8 L594.5,653.9 L589.6,652.7 L583.0,652.1 L574.7,652.1 L574.7,652.1 L576.4,649.5 L577.9,646.9 L579.1,644.4 L580.3,641.9Z" fill="rgb(101,101,101)"/>
<path d="M579.6,644.4 L585.9,645.0 L590.6,646.1 L593.7,648.0" stroke="rgb(144,144,144)" stroke-width="0.7" fill="none" stroke-opacity="0.6"/>
<path d="M578.4,646.9 L585.2,647.3 L590.5,648.2 L594.1,649.8" stroke="rgb(70,70,70)" stroke-width="0.7" fill="none" stroke-opacity="0.6"/>
<path d="M576.9,649.5 L584.3,649.7 L590.2,650.4 L594.4,651.8 L596.9,653.9" stroke="rgb(144,144,144)" stroke-width="0.7" fill="none" stroke-opacity="0.6"/>
<path d="M580.8,675.7 L583.7,675.6 L586.5,675.5 L589.1,675.5 L591.6,675.5 L591.6,675.5 L585.6,684.5 L577.6,693.7 L567.8,703.1 L556.6,712.4 L556.6,712.4 L552.4,712.5 L548.1,712.5 L543.7,712.5 L539.3,712.5 L539.3,712.5 L551.7,703.6 L563.0,694.4 L572.8,685.0 L580.8,675.7Z" fill="rgb(83,83,83)"/>
<path d="M583.3,676.2 L575.9,685.1 L566.8,694.2 L556.2,703.2 L544.5,712.0" stroke="rgb(120,120,120)" stroke-width="0.7" fill="none" stroke-opacity="0.6"/>
<path d="M586.1,676.1 L579.2,685.0 L570.5,694.0 L560.3,703.1 L548.9,712.0" stroke="rgb(58,58,58)" stroke-width="0.7" fill="none" stroke-opacity="0.6"/>
<path d="M588.8,676.1 L582.3,684.9 L574.1,693.9 L564.3,703.0 L553.1,711.9" stroke="rgb(120,120,120)" stroke-width="0.7" fill="none" stroke-opacity="0.6"/>
<path d="M493.0,714.4 L508.9,716.1 L524.6,717.1 L540.1,717.5 L554.9,717.5 L554.9,717.5 L551.3,720.1 L547.6,722.7 L543.8,725.3 L539.9,727.8 L539.9,727.8 L524.3,727.1 L508.5,725.9 L492.7,723.9 L477.1,721.1 L477.1,721.1 L481.0,719.5 L485.0,717.9 L489.0,716.2 L493.0,714.4Z" fill="rgb(38,38,38)"/>
<path d="M490.0,716.3 L505.3,718.2 L520.6,719.4 L535.7,720.0 L550.3,720.1" stroke="rgb(59,59,59)" stroke-width="0.7" fill="none" stroke-opacity="0.6"/>
<path d="M486.0,718.1 L501.2,720.2 L516.6,721.6 L531.8,722.4 L546.6,722.7" stroke="rgb(26,26,26)" stroke-width="0.7" fill="none" stroke-opacity="0.6"/>
<path d="M482.0,719.7 L497.2,722.2 L512.6,723.8 L527.8,724.8 L542.8,725.2" stroke="rgb(59,59,59)" stroke-width="0.7" fill="none" stroke-opacity="0.6"/>
<path d="M479.7,742.3 L484.2,743.4 L488.7,744.4 L493.2,745.4 L497.8,746.2 L497.8,746.2 L484.6,751.2 L472.2,754.8 L461.1,757.1 L451.4,757.9 L451.4,757.9 L448.1,755.7 L444.8,753.3 L441.7,750.9 L438.7,748.4 L438.7,748.4 L446.6,749.0 L456.2,748.2 L467.4,745.9 L479.7,742.3Z" fill="rgb(44,44,44)"/>
<path d="M483.3,743.7 L471.2,747.5 L460.1,750.0 L450.3,751.1 L442.2,750.9" stroke="rgb(67,67,67)" stroke-width="0.7" fill="none" stroke-opacity="0.6"/>
<path d="M487.8,744.7 L475.5,748.8 L464.1,751.7 L453.9,753.2 L445.3,753.4" stroke="rgb(30,30,30)" stroke-width="0.7" fill="none" stroke-opacity="0.6"/>
<path d="M492.4,745.7 L479.8,750.1 L468.1,753.3 L457.6,755.2 L448.6,755.7" stroke="rgb(67,67,67)" stroke-width="0.7" fill="none" stroke-opacity="0.6"/>
<path d="M419.4,723.9 L423.9,732.5 L431.2,742.9 L440.2,752.3 L450.6,760.7 L450.6,760.7 L448.2,760.5 L446.0,760.3 L444.0,759.9 L442.1,759.4 L442.1,759.4 L433.7,749.6 L427.1,738.9 L423.4,731.8 L419.8,724.8 L419.8,724.8 L419.7,724.6 L419.6,724.4 L419.5,724.2 L419.4,723.9Z" fill="rgb(45,45,45)"/>
<path d="M423.4,731.7 L429.9,742.1 L438.0,751.5 L447.5,760.0" stroke="rgb(68,68,68)" stroke-width="0.7" fill="none" stroke-opacity="0.6"/>
<path d="M428.8,741.1 L436.3,750.9 L445.4,759.7" stroke="rgb(31,31,31)" stroke-width="0.7" fill="none" stroke-opacity="0.6"/>
<path d="M427.8,740.1 L434.8,750.2 L443.3,759.3" stroke="rgb(68,68,68)" stroke-width="0.7" fill="none" stroke-opacity="0.6"/>
<path d="M587.4,660.3 L594.0,660.8 L598.9,662.0 L601.9,664.0 L604.7,668.9 L604.7,668.9 L604.8,669.2 L605.2,670.0 L605.9,671.7 L606.4,673.6 L606.4,673.6 L602.6,671.9 L597.2,670.9 L590.0,670.5 L581.2,670.6 L581.2,670.6 L583.0,668.0 L584.7,665.3 L586.2,662.8 L587.4,660.3Z" fill="rgb(97,97,97)"/>
<path d="M586.7,662.8 L593.5,663.2 L598.7,664.2 L602.3,665.8" stroke="rgb(138,138,138)" stroke-width="0.7" fill="none" stroke-opacity="0.6"/>
<path d="M585.2,665.3 L592.6,665.6 L598.4,666.3 L602.6,667.7 L605.1,669.8" stroke="rgb(67,67,67)" stroke-width="0.7" fill="none" stroke-opacity="0.6"/>
<path d="M583.6,668.0 L591.5,668.0 L597.9,668.6 L602.6,669.7 L605.7,671.6" stroke="rgb(138,138,138)" stroke-width="0.7" fill="none" stroke-opacity="0.6"/>
<path d="M587.0,694.3 L590.0,694.2 L593.0,694.1 L595.7,694.0 L598.4,694.0 L598.4,694.0 L591.8,703.1 L583.3,712.4 L573.1,721.8 L561.5,731.0 L561.5,731.0 L557.2,731.0 L552.8,731.0 L548.4,731.0 L543.9,731.0 L543.9,731.0 L556.6,722.2 L568.2,713.0 L578.5,703.6 L587.0,694.3Z" fill="rgb(82,82,82)"/>
<path d="M589.6,694.8 L581.7,703.8 L572.1,712.9 L561.2,721.8 L549.2,730.5" stroke="rgb(118,118,118)" stroke-width="0.7" fill="none" stroke-opacity="0.6"/>
<path d="M592.5,694.7 L585.1,703.6 L576.0,712.7 L565.4,721.7 L553.6,730.5" stroke="rgb(57,57,57)" stroke-width="0.7" fill="none" stroke-opacity="0.6"/>
<path d="M595.3,694.6 L588.4,703.5 L579.7,712.5 L569.4,721.6 L558.0,730.4" stroke="rgb(118,118,118)" stroke-width="0.7" fill="none" stroke-opacity="0.6"/>
</g>
<path d="M440.0,370.0 C415.3,377.3 347.2,392.2 320.0,400.0 C292.8,407.8 284.7,412.0 277.0,417.0 C269.3,422.0 274.3,425.7 274.0,430.0 C273.7,434.3 274.2,438.8 275.0,443.0 C275.8,447.2 276.5,450.2 279.0,455.0 C281.5,459.8 284.8,467.5 290.0,472.0 C295.2,476.5 301.7,479.5 310.0,482.0 C318.3,484.5 330.0,486.0 340.0,487.0 C350.0,488.0 360.0,488.7 370.0,488.0 C380.0,487.3 390.0,485.2 400.0,483.0 C410.0,480.8 420.3,479.7 430.0,475.0 C439.7,470.3 450.0,462.5 458.0,455.0 C466.0,447.5 473.5,438.3 478.0,430.0 C482.5,421.7 484.2,413.3 485.0,405.0 C485.8,396.7 484.3,386.5 483.0,380.0 C481.7,373.5 479.5,370.0 477.0,366.0 C474.5,362.0 474.2,355.3 468.0,356.0 C461.8,356.7 464.7,362.7 440.0,370.0 Z" fill="#0b0b0b"/>
<path d="M268.0,334.0 C261.7,342.8 263.3,340.3 262.0,345.0 C260.7,349.7 259.8,356.2 260.0,362.0 C260.2,367.8 261.7,374.0 263.0,380.0 C264.3,386.0 265.7,391.7 268.0,398.0 C270.3,404.3 274.0,411.5 277.0,418.0 C280.0,424.5 282.2,430.8 286.0,437.0 C289.8,443.2 294.3,449.8 300.0,455.0 C305.7,460.2 313.3,465.2 320.0,468.0 C326.7,470.8 333.3,471.0 340.0,472.0 C346.7,473.0 353.3,473.8 360.0,474.0 C366.7,474.2 373.3,474.0 380.0,473.0 C386.7,472.0 394.0,469.8 400.0,468.0 C406.0,466.2 410.7,464.3 416.0,462.0 C421.3,459.7 426.0,457.5 432.0,454.0 C438.0,450.5 446.5,445.5 452.0,441.0 C457.5,436.5 461.5,432.5 465.0,427.0 C468.5,421.5 471.4,413.8 473.0,408.0 C474.6,402.2 474.3,397.0 474.5,392.0 C474.7,387.0 474.8,383.3 474.0,378.0 C473.2,372.7 471.0,366.3 470.0,360.0 C469.0,353.7 468.7,346.3 468.0,340.0 C467.3,333.7 467.2,327.5 466.0,322.0 C464.8,316.5 463.3,311.5 461.0,307.0 C458.7,302.5 455.5,298.2 452.0,295.0 C448.5,291.8 448.7,290.5 440.0,288.0 C431.3,285.5 416.7,281.0 400.0,280.0 C383.3,279.0 356.7,280.0 340.0,282.0 C323.3,284.0 312.0,283.3 300.0,292.0 C288.0,300.7 274.3,325.2 268.0,334.0 Z" fill="#070707"/>
<ellipse cx="341" cy="233" rx="46" ry="28" fill="#0a140a"/>
<path d="M318,246 L372,238 L380,262 L362,300 L352,300 L330,262 Z" fill="#050505"/>
<ellipse cx="317.5" cy="211.7" rx="6.3" ry="4.2" fill="#54a45e"/>
<ellipse cx="309.2" cy="218.3" rx="6.3" ry="4.2" fill="#54a45e"/>
<ellipse cx="301.7" cy="226.7" rx="6.3" ry="4.2" fill="#54a45e"/>
<ellipse cx="316.7" cy="223.3" rx="6.3" ry="4.2" fill="#54a45e"/>
<ellipse cx="314.2" cy="230.8" rx="6.3" ry="4.2" fill="#54a45e"/>
<ellipse cx="363.3" cy="210.0" rx="6.3" ry="4.2" fill="#54a45e"/>
<ellipse cx="373.3" cy="215.8" rx="6.3" ry="4.2" fill="#54a45e"/>
<ellipse cx="360.0" cy="219.2" rx="6.3" ry="4.2" fill="#54a45e"/>
<ellipse cx="377.5" cy="224.2" rx="6.3" ry="4.2" fill="#54a45e"/>
<ellipse cx="363.3" cy="227.5" rx="6.3" ry="4.2" fill="#54a45e"/>
<ellipse cx="375.8" cy="233.3" rx="6.3" ry="4.2" fill="#54a45e"/>
<rect x="326" y="180" width="12.5" height="58" fill="url(#wcore)" stroke="#8a8a8a" stroke-width="0.5"/>
<ellipse cx="332.25" cy="180" rx="6.25" ry="3.5" fill="#ededed" stroke="#c8c8c8" stroke-width="0.4"/>
<rect x="317.5" y="184" width="12.5" height="56" fill="url(#wcore)" stroke="#8a8a8a" stroke-width="0.5"/>
<ellipse cx="323.75" cy="184" rx="6.25" ry="3.5" fill="#ededed" stroke="#c8c8c8" stroke-width="0.4"/>
<rect x="341" y="181" width="13.5" height="53" fill="url(#wcore)" stroke="#8a8a8a" stroke-width="0.5"/>
<ellipse cx="347.75" cy="181" rx="6.75" ry="3.5" fill="#ededed" stroke="#c8c8c8" stroke-width="0.4"/>
<rect x="330" y="189" width="15" height="53" fill="url(#wcore)" stroke="#8a8a8a" stroke-width="0.5"/>
<ellipse cx="337.5" cy="189" rx="7.5" ry="3.5" fill="#ededed" stroke="#c8c8c8" stroke-width="0.4"/>
<ellipse cx="357.5" cy="236.7" rx="6.3" ry="4.2" fill="#54a45e"/>
<ellipse cx="368.3" cy="241.7" rx="6.3" ry="4.2" fill="#54a45e"/>
<ellipse cx="345.0" cy="243.3" rx="6.3" ry="4.2" fill="#54a45e"/>
<ellipse cx="329.2" cy="244.2" rx="6.3" ry="4.2" fill="#54a45e"/>
<ellipse cx="356.7" cy="249.2" rx="6.3" ry="4.2" fill="#54a45e"/>
<ellipse cx="341.7" cy="252.5" rx="6.3" ry="4.2" fill="#54a45e"/>
<ellipse cx="326.7" cy="253.3" rx="6.3" ry="4.2" fill="#54a45e"/>
<ellipse cx="321.7" cy="237.5" rx="6.3" ry="4.2" fill="#54a45e"/>
<ellipse cx="306.0" cy="238.0" rx="6.3" ry="4.2" fill="#54a45e"/>
<g mask="url(#bmask)">
<path d="M262.0,296.0 C261.7,287.7 263.7,288.0 266.0,284.0 C268.3,280.0 272.0,275.3 276.0,272.0 C280.0,268.7 284.3,266.3 290.0,264.0 C295.7,261.7 303.3,259.0 310.0,258.0 C316.7,257.0 323.7,256.7 330.0,258.0 C336.3,259.3 343.7,262.3 348.0,266.0 C352.3,269.7 354.3,274.3 356.0,280.0 C357.7,285.7 357.3,290.0 358.0,300.0 C358.7,310.0 360.0,326.7 360.0,340.0 C360.0,353.3 363.0,370.8 358.0,380.0 C353.0,389.2 339.7,391.7 330.0,395.0 C320.3,398.3 307.5,400.5 300.0,400.0 C292.5,399.5 289.0,398.3 285.0,392.0 C281.0,385.7 278.8,371.7 276.0,362.0 C273.2,352.3 270.3,345.0 268.0,334.0 C265.7,323.0 262.3,304.3 262.0,296.0 Z" fill="#070712"/>
<rect x="-5.5" y="0" width="11" height="101.4" fill="url(#rodBd)" transform="translate(262.0,290.0) rotate(-9.6)"/>
<rect x="-6.0" y="0" width="12" height="101.9" fill="url(#alongFade)" transform="translate(262.0,290.0) rotate(-9.6)"/>
<rect x="-5.5" y="0" width="11" height="72.8" fill="url(#rodBd)" transform="translate(349.0,290.0) rotate(-8.7)"/>
<rect x="-6.0" y="0" width="12" height="73.3" fill="url(#alongFade)" transform="translate(349.0,290.0) rotate(-8.7)"/>
<rect x="-5.0" y="0" width="10" height="99.7" fill="url(#rodB)" transform="translate(266.0,296.0) rotate(-10.7)"/>
<rect x="-5.5" y="0" width="11" height="100.2" fill="url(#alongFade)" transform="translate(266.0,296.0) rotate(-10.7)"/>
<rect x="-5.0" y="0" width="10" height="92.7" fill="url(#rodB)" transform="translate(270.8,304.0) rotate(-13.9)"/>
<rect x="-5.5" y="0" width="11" height="93.2" fill="url(#alongFade)" transform="translate(270.8,304.0) rotate(-13.9)"/>
<rect x="-5.0" y="0" width="10" height="88.6" fill="url(#rodB)" transform="translate(280.8,311.7) rotate(-17.9)"/>
<rect x="-5.5" y="0" width="11" height="89.1" fill="url(#alongFade)" transform="translate(280.8,311.7) rotate(-17.9)"/>
<rect x="-5.0" y="0" width="10" height="83.7" fill="url(#rodB)" transform="translate(294.2,315.0) rotate(-19.4)"/>
<rect x="-5.5" y="0" width="11" height="84.2" fill="url(#alongFade)" transform="translate(294.2,315.0) rotate(-19.4)"/>
<rect x="-5.0" y="0" width="10" height="76.6" fill="url(#rodB)" transform="translate(310.8,315.0) rotate(-20.0)"/>
<rect x="-5.5" y="0" width="11" height="77.1" fill="url(#alongFade)" transform="translate(310.8,315.0) rotate(-20.0)"/>
<rect x="-5.0" y="0" width="10" height="66.5" fill="url(#rodB)" transform="translate(325.8,311.7) rotate(-20.4)"/>
<rect x="-5.5" y="0" width="11" height="67.0" fill="url(#alongFade)" transform="translate(325.8,311.7) rotate(-20.4)"/>
<rect x="-5.0" y="0" width="10" height="56.2" fill="url(#rodB)" transform="translate(338.3,305.0) rotate(-19.4)"/>
<rect x="-5.5" y="0" width="11" height="56.7" fill="url(#alongFade)" transform="translate(338.3,305.0) rotate(-19.4)"/>
<rect x="-5.0" y="0" width="10" height="46.8" fill="url(#rodB)" transform="translate(348.0,297.0) rotate(-16.1)"/>
<rect x="-5.5" y="0" width="11" height="47.3" fill="url(#alongFade)" transform="translate(348.0,297.0) rotate(-16.1)"/>
</g>
<ellipse cx="287.0" cy="267.8" rx="6.3" ry="4.2" fill="#5e5c98"/>
<ellipse cx="324.7" cy="262.3" rx="6.3" ry="4.2" fill="#5e5c98"/>
<ellipse cx="335.7" cy="266.0" rx="6.3" ry="4.2" fill="#5e5c98"/>
<ellipse cx="278.8" cy="275.2" rx="6.3" ry="4.2" fill="#5e5c98"/>
<ellipse cx="329.3" cy="276.1" rx="6.3" ry="4.2" fill="#5e5c98"/>
<ellipse cx="344.8" cy="273.3" rx="6.3" ry="4.2" fill="#5e5c98"/>
<ellipse cx="269.7" cy="284.3" rx="6.3" ry="4.2" fill="#5e5c98"/>
<ellipse cx="285.3" cy="281.6" rx="6.3" ry="4.2" fill="#5e5c98"/>
<ellipse cx="333.8" cy="285.3" rx="6.3" ry="4.2" fill="#5e5c98"/>
<ellipse cx="350.3" cy="282.5" rx="6.3" ry="4.2" fill="#5e5c98"/>
<ellipse cx="267.8" cy="294.4" rx="6.3" ry="4.2" fill="#5e5c98"/>
<ellipse cx="282.5" cy="291.7" rx="6.3" ry="4.2" fill="#5e5c98"/>
<ellipse cx="329.3" cy="295.3" rx="6.3" ry="4.2" fill="#5e5c98"/>
<ellipse cx="347.6" cy="292.6" rx="6.3" ry="4.2" fill="#5e5c98"/>
<rect x="288" y="234" width="14" height="66" fill="url(#wcore)" stroke="#8a8a8a" stroke-width="0.5"/>
<ellipse cx="295.0" cy="234" rx="7.0" ry="3.5" fill="#ededed" stroke="#c8c8c8" stroke-width="0.4"/>
<rect x="304" y="231.5" width="16" height="66.5" fill="url(#wcore)" stroke="#8a8a8a" stroke-width="0.5"/>
<ellipse cx="312.0" cy="231.5" rx="8.0" ry="3.5" fill="#ededed" stroke="#c8c8c8" stroke-width="0.4"/>
<rect x="287" y="242" width="15" height="60" fill="url(#wcore)" stroke="#8a8a8a" stroke-width="0.5"/>
<ellipse cx="294.5" cy="242" rx="7.5" ry="3.5" fill="#ededed" stroke="#c8c8c8" stroke-width="0.4"/>
<rect x="303" y="244" width="18" height="56" fill="url(#wcore)" stroke="#8a8a8a" stroke-width="0.5"/>
<ellipse cx="312.0" cy="244" rx="9.0" ry="3.5" fill="#ededed" stroke="#c8c8c8" stroke-width="0.4"/>
<ellipse cx="269.7" cy="303.6" rx="6.3" ry="4.2" fill="#5e5c98"/>
<ellipse cx="287.1" cy="299.9" rx="6.3" ry="4.2" fill="#5e5c98"/>
<ellipse cx="300.8" cy="304.5" rx="6.3" ry="4.2" fill="#5e5c98"/>
<ellipse cx="317.3" cy="303.0" rx="6.3" ry="4.2" fill="#5e5c98"/>
<ellipse cx="339.3" cy="302.7" rx="6.3" ry="4.2" fill="#5e5c98"/>
<ellipse cx="280.7" cy="310.9" rx="6.3" ry="4.2" fill="#5e5c98"/>
<ellipse cx="294.4" cy="314.6" rx="6.3" ry="4.2" fill="#5e5c98"/>
<ellipse cx="310.0" cy="314.6" rx="6.3" ry="4.2" fill="#5e5c98"/>
<ellipse cx="326.5" cy="310.0" rx="6.3" ry="4.2" fill="#5e5c98"/>
<g mask="url(#rmask)">
<path d="M356.0,262.0 C357.3,255.0 361.7,251.5 366.0,248.0 C370.3,244.5 375.5,242.7 382.0,241.0 C388.5,239.3 397.3,237.8 405.0,238.0 C412.7,238.2 422.0,240.0 428.0,242.0 C434.0,244.0 437.7,246.7 441.0,250.0 C444.3,253.3 446.5,255.3 448.0,262.0 C449.5,268.7 449.8,278.7 450.0,290.0 C450.2,301.3 449.7,318.3 449.0,330.0 C448.3,341.7 448.2,351.7 446.0,360.0 C443.8,368.3 443.7,374.2 436.0,380.0 C428.3,385.8 410.7,392.5 400.0,395.0 C389.3,397.5 378.3,404.2 372.0,395.0 C365.7,385.8 364.3,357.5 362.0,340.0 C359.7,322.5 359.0,303.0 358.0,290.0 C357.0,277.0 354.7,269.0 356.0,262.0 Z" fill="#120305"/>
<rect x="-5.5" y="0" width="11" height="102.2" fill="url(#rodRd)" transform="translate(443.0,266.0) rotate(-3.4)"/>
<rect x="-6.0" y="0" width="12" height="102.7" fill="url(#alongFadeR)" transform="translate(443.0,266.0) rotate(-3.4)"/>
<rect x="-5.2" y="0" width="10.5" height="102.9" fill="url(#rodR)" transform="translate(363.7,284.3) rotate(-11.9)"/>
<rect x="-5.8" y="0" width="11.5" height="103.4" fill="url(#alongFadeR)" transform="translate(363.7,284.3) rotate(-11.9)"/>
<rect x="-5.2" y="0" width="10.5" height="94.5" fill="url(#rodR)" transform="translate(376.7,289.7) rotate(-12.4)"/>
<rect x="-5.8" y="0" width="11.5" height="95.0" fill="url(#alongFadeR)" transform="translate(376.7,289.7) rotate(-12.4)"/>
<rect x="-5.2" y="0" width="10.5" height="88.6" fill="url(#rodR)" transform="translate(391.8,294.0) rotate(-13.8)"/>
<rect x="-5.8" y="0" width="11.5" height="89.1" fill="url(#alongFadeR)" transform="translate(391.8,294.0) rotate(-13.8)"/>
<rect x="-5.2" y="0" width="10.5" height="85.2" fill="url(#rodR)" transform="translate(407.0,294.0) rotate(-15.7)"/>
<rect x="-5.8" y="0" width="11.5" height="85.7" fill="url(#alongFadeR)" transform="translate(407.0,294.0) rotate(-15.7)"/>
<rect x="-5.2" y="0" width="10.5" height="80.0" fill="url(#rodR)" transform="translate(422.0,290.8) rotate(-15.2)"/>
<rect x="-5.8" y="0" width="11.5" height="80.5" fill="url(#alongFadeR)" transform="translate(422.0,290.8) rotate(-15.2)"/>
<rect x="-5.2" y="0" width="10.5" height="79.0" fill="url(#rodR)" transform="translate(436.0,284.3) rotate(-10.2)"/>
<rect x="-5.8" y="0" width="11.5" height="79.5" fill="url(#alongFadeR)" transform="translate(436.0,284.3) rotate(-10.2)"/>
<rect x="-5.2" y="0" width="10.5" height="88.4" fill="url(#rodR)" transform="translate(444.0,272.0) rotate(-5.2)"/>
<rect x="-5.8" y="0" width="11.5" height="88.9" fill="url(#alongFadeR)" transform="translate(444.0,272.0) rotate(-5.2)"/>
</g>
<ellipse cx="382.1" cy="246.5" rx="6.3" ry="4.2" fill="#b06062"/>
<ellipse cx="371.1" cy="253.8" rx="6.3" ry="4.2" fill="#b06062"/>
<ellipse cx="381.2" cy="260.3" rx="6.3" ry="4.2" fill="#b06062"/>
<ellipse cx="363.8" cy="263.0" rx="6.3" ry="4.2" fill="#b06062"/>
<ellipse cx="377.5" cy="270.3" rx="6.3" ry="4.2" fill="#b06062"/>
<ellipse cx="361.0" cy="273.1" rx="6.3" ry="4.2" fill="#b06062"/>
<ellipse cx="383.0" cy="278.6" rx="6.3" ry="4.2" fill="#b06062"/>
<ellipse cx="424.3" cy="274.9" rx="6.3" ry="4.2" fill="#b06062"/>
<ellipse cx="441.7" cy="273.1" rx="6.3" ry="4.2" fill="#b06062"/>
<ellipse cx="427.0" cy="265.8" rx="6.3" ry="4.2" fill="#b06062"/>
<ellipse cx="442.6" cy="263.0" rx="6.3" ry="4.2" fill="#b06062"/>
<ellipse cx="423.3" cy="256.6" rx="6.3" ry="4.2" fill="#b06062"/>
<ellipse cx="437.1" cy="253.8" rx="6.3" ry="4.2" fill="#b06062"/>
<ellipse cx="427.0" cy="247.4" rx="6.3" ry="4.2" fill="#b06062"/>
<rect x="387.5" y="222" width="14.0" height="59" fill="url(#wcore)" stroke="#8a8a8a" stroke-width="0.5"/>
<ellipse cx="394.5" cy="222" rx="7.0" ry="3.5" fill="#ededed" stroke="#c8c8c8" stroke-width="0.4"/>
<rect x="401.5" y="223" width="14.5" height="57" fill="url(#wcore)" stroke="#8a8a8a" stroke-width="0.5"/>
<ellipse cx="408.75" cy="223" rx="7.25" ry="3.5" fill="#ededed" stroke="#c8c8c8" stroke-width="0.4"/>
<rect x="386.5" y="228" width="16.5" height="54" fill="url(#wcore)" stroke="#8a8a8a" stroke-width="0.5"/>
<ellipse cx="394.75" cy="228" rx="8.25" ry="3.5" fill="#ededed" stroke="#c8c8c8" stroke-width="0.4"/>
<rect x="401.5" y="229" width="16.5" height="51" fill="url(#wcore)" stroke="#8a8a8a" stroke-width="0.5"/>
<ellipse cx="409.75" cy="229" rx="8.25" ry="3.5" fill="#ededed" stroke="#c8c8c8" stroke-width="0.4"/>
<ellipse cx="366.5" cy="282.3" rx="6.3" ry="4.2" fill="#b06062"/>
<ellipse cx="376.6" cy="289.6" rx="6.3" ry="4.2" fill="#b06062"/>
<ellipse cx="391.3" cy="293.3" rx="6.3" ry="4.2" fill="#b06062"/>
<ellipse cx="395.8" cy="283.2" rx="6.3" ry="4.2" fill="#b06062"/>
<ellipse cx="412.3" cy="282.3" rx="6.3" ry="4.2" fill="#b06062"/>
<ellipse cx="407.8" cy="293.3" rx="6.3" ry="4.2" fill="#b06062"/>
<ellipse cx="422.4" cy="289.6" rx="6.3" ry="4.2" fill="#b06062"/>
<ellipse cx="436.2" cy="283.2" rx="6.3" ry="4.2" fill="#b06062"/>
<path d="M265.0,385.0 C267.5,386.7 274.7,392.2 280.0,395.0 C285.3,397.8 290.3,399.5 297.0,401.5 C303.7,403.5 312.0,405.4 320.0,407.0 C328.0,408.6 336.7,410.2 345.0,411.0 C353.3,411.8 359.8,412.8 370.0,412.0 C380.2,411.2 393.8,409.0 406.0,406.0 C418.2,403.0 434.0,397.2 443.0,394.0 C452.0,390.8 455.7,389.0 460.0,387.0 C464.3,385.0 466.7,383.3 469.0,382.0 C471.3,380.7 473.2,379.5 474.0,379.0 L474.5,392.0 C474.2,394.7 474.6,402.2 473.0,408.0 C471.4,413.8 468.5,421.5 465.0,427.0 C461.5,432.5 456.2,437.2 452.0,441.0 C447.8,444.8 443.3,447.8 440.0,450.0 C436.7,452.2 436.0,452.0 432.0,454.0 C428.0,456.0 421.3,459.7 416.0,462.0 C410.7,464.3 406.0,466.2 400.0,468.0 C394.0,469.8 386.7,472.0 380.0,473.0 C373.3,474.0 366.7,474.2 360.0,474.0 C353.3,473.8 346.7,473.0 340.0,472.0 C333.3,471.0 326.7,470.8 320.0,468.0 C313.3,465.2 305.7,460.2 300.0,455.0 C294.3,449.8 289.8,443.2 286.0,437.0 C282.2,430.8 280.0,424.5 277.0,418.0 C274.0,411.5 269.5,401.3 268.0,398.0 Z" fill="url(#faceg)"/>
<path d="M265.0,385.0 C267.5,386.7 274.7,392.2 280.0,395.0 C285.3,397.8 290.3,399.5 297.0,401.5 C303.7,403.5 312.0,405.4 320.0,407.0 C328.0,408.6 336.7,410.2 345.0,411.0 C353.3,411.8 359.8,412.8 370.0,412.0 C380.2,411.2 393.8,409.0 406.0,406.0 C418.2,403.0 434.0,397.2 443.0,394.0 C452.0,390.8 455.7,389.0 460.0,387.0 C464.3,385.0 466.7,383.3 469.0,382.0 C471.3,380.7 473.2,379.5 474.0,379.0 L474.5,392.0 C474.2,394.7 474.6,402.2 473.0,408.0 C471.4,413.8 468.5,421.5 465.0,427.0 C461.5,432.5 456.2,437.2 452.0,441.0 C447.8,444.8 443.3,447.8 440.0,450.0 C436.7,452.2 436.0,452.0 432.0,454.0 C428.0,456.0 421.3,459.7 416.0,462.0 C410.7,464.3 406.0,466.2 400.0,468.0 C394.0,469.8 386.7,472.0 380.0,473.0 C373.3,474.0 366.7,474.2 360.0,474.0 C353.3,473.8 346.7,473.0 340.0,472.0 C333.3,471.0 326.7,470.8 320.0,468.0 C313.3,465.2 305.7,460.2 300.0,455.0 C294.3,449.8 289.8,443.2 286.0,437.0 C282.2,430.8 280.0,424.5 277.0,418.0 C274.0,411.5 269.5,401.3 268.0,398.0 Z" fill="url(#faceshade)"/>
<path d="M265.0,385.0 C267.5,386.7 274.7,392.2 280.0,395.0 C285.3,397.8 290.3,399.5 297.0,401.5 C303.7,403.5 312.0,405.4 320.0,407.0 C328.0,408.6 336.7,410.2 345.0,411.0 C353.3,411.8 359.8,412.8 370.0,412.0 C380.2,411.2 393.8,409.0 406.0,406.0 C418.2,403.0 434.0,397.2 443.0,394.0 C452.0,390.8 455.7,389.0 460.0,387.0 C464.3,385.0 466.7,383.3 469.0,382.0 C471.3,380.7 473.2,379.5 474.0,379.0 L474.5,392.0 C474.2,394.7 474.6,402.2 473.0,408.0 C471.4,413.8 468.5,421.5 465.0,427.0 C461.5,432.5 456.2,437.2 452.0,441.0 C447.8,444.8 443.3,447.8 440.0,450.0 C436.7,452.2 436.0,452.0 432.0,454.0 C428.0,456.0 421.3,459.7 416.0,462.0 C410.7,464.3 406.0,466.2 400.0,468.0 C394.0,469.8 386.7,472.0 380.0,473.0 C373.3,474.0 366.7,474.2 360.0,474.0 C353.3,473.8 346.7,473.0 340.0,472.0 C333.3,471.0 326.7,470.8 320.0,468.0 C313.3,465.2 305.7,460.2 300.0,455.0 C294.3,449.8 289.8,443.2 286.0,437.0 C282.2,430.8 280.0,424.5 277.0,418.0 C274.0,411.5 269.5,401.3 268.0,398.0 Z" fill="url(#facevert)"/>
<line x1="193.6" y1="292.6" x2="262.5" y2="292.6" stroke="#b4b294" stroke-width="1.4"/>
<line x1="192.5" y1="362.5" x2="269" y2="362.5" stroke="#b4b294" stroke-width="1.4"/>
<line x1="192" y1="461" x2="292" y2="461" stroke="#b4b294" stroke-width="1.4"/>
<line x1="194" y1="550.8" x2="342.5" y2="550.8" stroke="#b4b294" stroke-width="1.4"/>
</svg>
</body></html>
